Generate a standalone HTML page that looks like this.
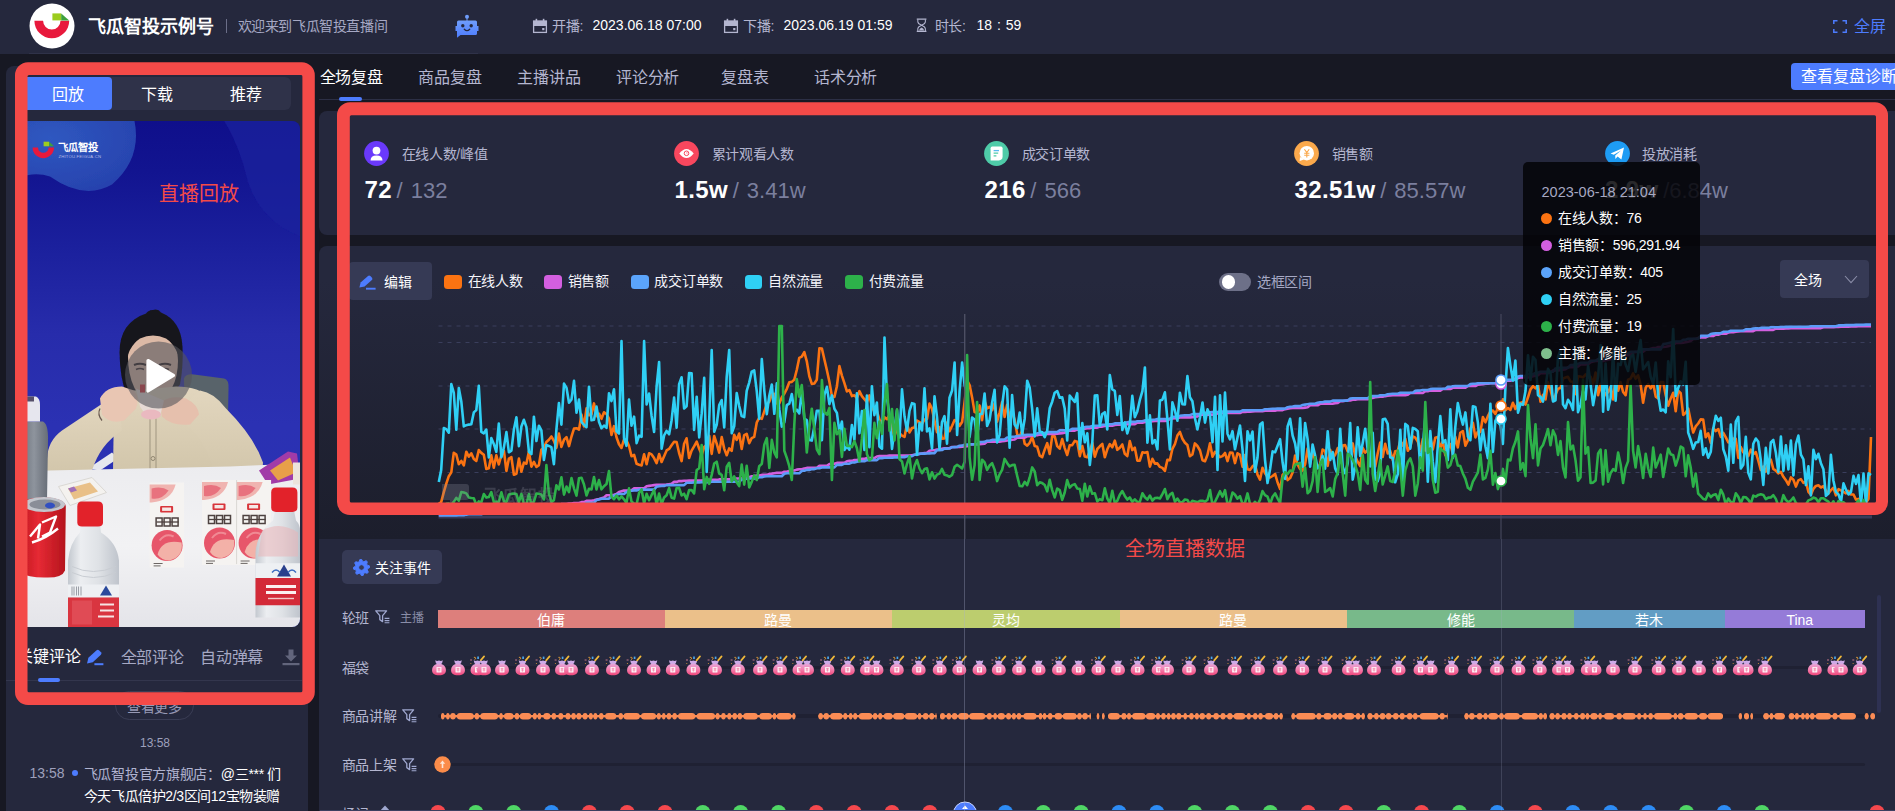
<!DOCTYPE html>
<html lang="zh-CN"><head><meta charset="utf-8"><title>飞瓜智投</title>
<style>
html,body{margin:0;padding:0;}
body{width:1895px;height:811px;overflow:hidden;background:#171823;position:relative;font-family:"Liberation Sans",sans-serif;}
body>div,.a{position:absolute;}
.t{white-space:nowrap;}
#clip{left:0;top:0;width:1895px;height:811px;overflow:hidden;}
#clip>div,#clip>svg{position:absolute;}
</style></head><body><div id="clip">
<div class="" style="left:0px;top:0px;width:1895px;height:53.5px;background:#25283d;"></div>
<div class="" style="left:29px;top:53px;width:449px;height:1px;background:#2f3249;"></div>
<svg class="a" style="left:28.5px;top:2.5px" width="46" height="46" viewBox="0 0 46 46">
<circle cx="23" cy="23" r="22.5" fill="#fff"/>
<path d="M5.4,17.8 A17.4,17.4 0 0 0 40.2,17.8 L31.5,17.8 A8.7,8.7 0 0 1 14.1,17.8 Z" fill="#e8193c"/>
<rect x="23.4" y="10.4" width="8.8" height="7" fill="#9ccc1e"/>
<path d="M32.2,10.4 L40.2,17.4 L32.2,17.4 Z" fill="#3ea03c"/>
</svg>
<div class="t" style="left:88px;top:13.7px;font-size:18px;line-height:27px;color:#fff;font-weight:700;">飞瓜智投示例号</div>
<div class="" style="left:226px;top:19px;width:1px;height:14px;background:#6b6e88;"></div>
<div class="t" style="left:237.5px;top:15.7px;font-size:14px;line-height:21px;color:#a6a8c4;font-weight:400;letter-spacing:-0.4px;">欢迎来到飞瓜智投直播间</div>
<svg class="a" style="left:454px;top:13px" width="26" height="26" viewBox="0 0 26 26">
<defs><linearGradient id="rg" x1="0" y1="0" x2="0" y2="1"><stop offset="0" stop-color="#6f9dfb"/><stop offset="1" stop-color="#4d7cfe"/></linearGradient></defs>
<circle cx="13" cy="3.8" r="2" fill="#6f9dfb"/><rect x="12.5" y="5" width="1" height="3" fill="#6f9dfb"/>
<path d="M4.5,7.6 H21.5 Q23,7.6 23,9.1 V13 H24.5 V18 H23 V20.5 Q23,22 21.5,22 H6.5 L3,24.8 V22 Q3,22 3,20.5 V18 H1.5 V13 H3 V9.1 Q3,7.6 4.5,7.6 Z" fill="url(#rg)"/>
<circle cx="8.8" cy="12.8" r="1.7" fill="#25283d"/><circle cx="17.2" cy="12.8" r="1.7" fill="#25283d"/>
<path d="M10.3,16.2 Q13,19.2 15.7,16.2" stroke="#25283d" stroke-width="1.3" fill="none" stroke-linecap="round"/>
</svg>
<svg class="a" style="left:532px;top:18px" width="16" height="16" viewBox="0 0 16 16">
<path d="M1,3 H15 V8 H1 Z" fill="#b4b6d0"/><rect x="1.6" y="3" width="12.8" height="11.4" fill="none" stroke="#b4b6d0" stroke-width="1.3"/>
<rect x="3.6" y="0.8" width="1.6" height="3" fill="#b4b6d0"/><rect x="10.8" y="0.8" width="1.6" height="3" fill="#b4b6d0"/>
<rect x="10.2" y="10" width="2.2" height="2.2" fill="#b4b6d0"/></svg>
<svg class="a" style="left:722.5px;top:18px" width="16" height="16" viewBox="0 0 16 16">
<path d="M1,3 H15 V8 H1 Z" fill="#b4b6d0"/><rect x="1.6" y="3" width="12.8" height="11.4" fill="none" stroke="#b4b6d0" stroke-width="1.3"/>
<rect x="3.6" y="0.8" width="1.6" height="3" fill="#b4b6d0"/><rect x="10.8" y="0.8" width="1.6" height="3" fill="#b4b6d0"/>
<rect x="10.2" y="10" width="2.2" height="2.2" fill="#b4b6d0"/></svg>
<div class="t" style="left:552px;top:16.1px;font-size:14px;line-height:21px;color:#b4b6d0;font-weight:400;letter-spacing:-0.3px;">开播:</div>
<div class="t" style="left:592.5px;top:15.3px;font-size:14px;line-height:21px;color:#fff;font-weight:400;">2023.06.18 07:00</div>
<div class="t" style="left:743px;top:16.1px;font-size:14px;line-height:21px;color:#b4b6d0;font-weight:400;letter-spacing:-0.3px;">下播:</div>
<div class="t" style="left:783.5px;top:15.3px;font-size:14px;line-height:21px;color:#fff;font-weight:400;">2023.06.19 01:59</div>
<svg class="a" style="left:915px;top:18.2px" width="13.2" height="14.4" viewBox="0 0 15 16">
<path d="M2,1 H13 M2,15 H13" stroke="#b4b6d0" stroke-width="1.4"/>
<path d="M3.2,1.5 V4 Q3.2,6.2 7.5,8 Q11.8,6.2 11.8,4 V1.5 M3.2,14.5 V12 Q3.2,9.8 7.5,8 Q11.8,9.8 11.8,12 V14.5" stroke="#b4b6d0" stroke-width="1.2" fill="none"/>
<path d="M4.6,14 Q5,11.5 7.5,10.6 Q10,11.5 10.4,14 Z" fill="#b4b6d0"/></svg>
<div class="t" style="left:934.5px;top:16.1px;font-size:14px;line-height:21px;color:#b4b6d0;font-weight:400;letter-spacing:-0.3px;">时长:</div>
<div class="t" style="left:976.5px;top:15.3px;font-size:14px;line-height:21px;color:#fff;font-weight:400;word-spacing:1px;">18 : 59</div>
<svg class="a" style="left:1833px;top:19.5px" width="14" height="13" viewBox="0 0 14 13">
<path d="M0.8,4 V0.8 H4.5 M9.5,0.8 H13.2 V4 M13.2,9 V12.2 H9.5 M4.5,12.2 H0.8 V9" stroke="#4d7cfe" stroke-width="1.5" fill="none"/></svg>
<div class="t" style="left:1854px;top:15.0px;font-size:16px;line-height:24px;color:#4d7cfe;font-weight:400;">全屏</div>
<div class="" style="left:6px;top:65.5px;width:301.5px;height:760px;background:#25283d;border-radius:8px 8px 0 0;"></div>
<div class="" style="left:20px;top:77px;width:270.5px;height:32.5px;background:#2f3249;border-radius:0 6px 6px 0;"></div>
<div class="" style="left:20px;top:77px;width:92px;height:32.5px;background:#4d7cfe;border-radius:0 4px 4px 0;"></div>
<div class="t" style="left:-232px;width:600px;text-align:center;top:82.5px;font-size:16px;line-height:24px;color:#fff;font-weight:400;">回放</div>
<div class="t" style="left:-143px;width:600px;text-align:center;top:82.5px;font-size:16px;line-height:24px;color:#fff;font-weight:400;">下载</div>
<div class="t" style="left:-54px;width:600px;text-align:center;top:82.5px;font-size:16px;line-height:24px;color:#fff;font-weight:400;">推荐</div>
<svg class="a" style="left:20px;top:120.5px;border-radius:0 8px 8px 0;" width="280" height="506.5" viewBox="20 120.5 280 506.5">
<defs>
<linearGradient id="vbg" x1="0" y1="0" x2="0" y2="1"><stop offset="0" stop-color="#0f0f8b"/><stop offset="0.1" stop-color="#121490"/><stop offset="0.25" stop-color="#1b209d"/><stop offset="0.42" stop-color="#272cab"/><stop offset="0.6" stop-color="#2b31b3"/><stop offset="1" stop-color="#2832b2"/></linearGradient>
<radialGradient id="vblob" cx="0.3" cy="0.25" r="0.9"><stop offset="0" stop-color="#2f58c0"/><stop offset="1" stop-color="#2640ac"/></radialGradient>
<linearGradient id="vtab" x1="0" y1="0" x2="0" y2="1"><stop offset="0" stop-color="#ececef"/><stop offset="0.5" stop-color="#f2f2f4"/><stop offset="1" stop-color="#e4e4e9"/></linearGradient>
<linearGradient id="vbot" x1="0" y1="0" x2="1" y2="0"><stop offset="0" stop-color="#c3c8cf"/><stop offset="0.25" stop-color="#eceef1"/><stop offset="0.6" stop-color="#dfe2e6"/><stop offset="1" stop-color="#bfc4cc"/></linearGradient>
<linearGradient id="vcan" x1="0" y1="0" x2="1" y2="0"><stop offset="0" stop-color="#c0161f"/><stop offset="0.4" stop-color="#e62a34"/><stop offset="1" stop-color="#b4141d"/></linearGradient>
<linearGradient id="vgb" x1="0" y1="0" x2="1" y2="0"><stop offset="0" stop-color="#6a707a"/><stop offset="0.5" stop-color="#8e949d"/><stop offset="1" stop-color="#676d77"/></linearGradient>
<linearGradient id="vsw" x1="0" y1="0" x2="0" y2="1"><stop offset="0" stop-color="#e2d6be"/><stop offset="1" stop-color="#d2c6ab"/></linearGradient>
<filter id="vb" x="-5%" y="-5%" width="110%" height="110%"><feGaussianBlur stdDeviation="0.5"/></filter>
<g id="carton"><path d="M0,0 H34.5 V85 H0 Z" fill="#f5f3f1"/><path d="M0,2 H26 Q22,18 2,20 L0,20 Z" fill="#f0b4b0"/><path d="M2,6 Q12,3 19,8 Q12,18 2,16 Z" fill="#e8727e"/>
<rect x="10.5" y="23.5" width="13" height="6.5" rx="1" fill="#d8343a"/><rect x="12.5" y="25" width="9" height="3.4" fill="#f5e8e6"/>
<path d="M6.5,35.5 h6 v8 h-6 z M14.5,35.5 h6 v8 h-6 z M22.5,35.5 h6 v8 h-6 z" fill="none" stroke="#4e4240" stroke-width="1.5"/><path d="M7,39.5 h22" stroke="#4e4240" stroke-width="1.3"/>
<circle cx="17.5" cy="63" r="15.5" fill="#e7566a"/><path d="M8,72 Q12,56 32,60 Q34,74 20,78 Q12,78 8,72 Z" fill="#f3b1a8"/><path d="M10,58 Q16,50 24,54" stroke="#f08a94" stroke-width="2" fill="none"/>
<path d="M4,81 h9 M4,83.4 h7" stroke="#6c6664" stroke-width="1"/></g>
</defs>
<rect x="20" y="120.5" width="280" height="506.5" fill="url(#vbg)"/>
<g filter="url(#vb)">
<path d="M224,120 H300 V236 Q262,222 248,182 Q240,146 224,120 Z" fill="#1a1f9c" fill-opacity="0.75"/>
<path d="M13.5,120.5 H134.5 Q142,158 112,184 Q84,200 50,176 Q32,170 13.5,180 Z" fill="url(#vblob)"/>
</g>
<path d="M32.6,147 A10.7,10.7 0 0 0 54,147 L48.6,147 A5.3,5.3 0 0 1 38,147 Z" fill="#e8193c"/>
<rect x="43.6" y="141.2" width="5.6" height="4.6" fill="#9ccc1e"/><path d="M49.2,141.2 L54,145.8 H49.2 Z" fill="#3ea03c"/>
<text x="58" y="150.4" font-size="10.4" font-weight="700" fill="#fff" font-family="Liberation Sans, sans-serif">飞瓜智投</text>
<text x="58.5" y="157.6" font-size="4.2" fill="#b8bce8" font-family="Liberation Sans, sans-serif" letter-spacing="0.2">ZHITOU.FEIGUA.CN</text>
<g filter="url(#vb)">
<!-- chair -->
<path d="M184,378 Q186,373 194,374 L224,378 Q229,379 228.5,388 L227,470 H186 Z" fill="#59636a"/>
<path d="M88,468 L112,452 L118,458 L100,470 Z" fill="#e6e8ee"/>
<!-- hair back -->
<path d="M153,309.5 Q158,307.5 161,312 Q181,320 182.5,346 Q183.5,366 180,384 L174,392 L126,392 Q120,378 119.5,352 Q119.5,322 146,313 Q149,309 153,309.5 Z" fill="#17161c"/>
<!-- face -->
<path d="M128,356 Q128,334 152,333 Q178,334 178,360 Q178,392 153,408 Q128,392 128,356 Z" fill="#dcb9a6"/>
<path d="M125,366 Q124,338 140,331 Q152,327 166,331 Q182,338 181,366 Q178,346 166,338 Q153,332 140,338 Q128,346 125,366 Z" fill="#17161c"/>
<path d="M134,364.5 q6,-2.5 12,0 M159,364.5 q6,-2.5 12,0" stroke="#2a1e1e" stroke-width="2" fill="none"/>
<path d="M136,369 q4,-2 8,0 M161,369 q4,-2 8,0" stroke="#3a2a2a" stroke-width="1.6" fill="none"/>
<!-- torso -->
<path d="M113,470 L114,408 Q118,394 134,390 L176,386 Q200,386 210,398 L214,470 Z" fill="url(#vsw)"/>
<!-- left arm -->
<path d="M47,458 Q48,440 62,430 L104,402 Q116,400 120,412 L122,430 Q100,444 92,470 L47,472 Z" fill="url(#vsw)"/>
<!-- right arm -->
<path d="M200,390 Q214,392 226,408 Q254,436 263,462 L262,474 L214,472 Q206,440 186,424 L180,408 Z" fill="url(#vsw)"/>
<path d="M150,418 V470 M156,418 V470" stroke="#9a907c" stroke-width="0.9"/>
<circle cx="153" cy="458" r="2" fill="none" stroke="#8a806c" stroke-width="0.9"/>
<!-- hands -->
<path d="M100,398 Q106,386 122,386 L134,390 Q140,398 136,408 L124,420 Q110,424 102,414 Z" fill="#e9c6b3"/>
<path d="M160,402 Q172,394 186,398 Q198,404 199,414 L190,424 Q172,426 162,416 Z" fill="#e6c0ad"/>
<path d="M100,408 q-3,6 2,12" stroke="#6a5a50" stroke-width="1.2" fill="none"/>
<!-- cup -->
<path d="M136,388 L140,406 Q146,418 160,416 L164,400 Z" fill="#e9dcdc" fill-opacity="0.8"/><ellipse cx="151" cy="414" rx="10" ry="5" fill="#eab9c0"/><rect x="140" y="384" width="5" height="8" fill="#d8303a"/>
<!-- table -->
<path d="M20,472 L49,470 L230,466 L300,463 V628 H20 Z" fill="url(#vtab)"/>
<!-- snack -->
<path d="M259,470 L288,451 L297,453 L300,478 L268,484 Z" fill="#a13aa8"/><path d="M270,470 L290,457 L296,472 L278,480 Z" fill="#e8a048"/>
<path d="M293,462 h7 v22 h-7z" fill="#ece4dc"/>
<!-- gray bottle -->
<path d="M20,421 H43 Q48.5,424 48,440 L47,500 H20 Z" fill="url(#vgb)"/>
<path d="M20,396 H36 Q40,398 40,404 V421 H20 Z" fill="#e6e6ee"/><path d="M20,396 h14 v5 h-14z" fill="#55506a"/>
<!-- food container -->
<path d="M58.5,486 L92,477 L106.5,492 L70,505 Z" fill="#f4f2ef" stroke="#dad8d4" stroke-width="1"/><path d="M68,488 L90,482 L98,491 L74,499 Z" fill="#e9c088"/><path d="M68,488 l6,-2 l3,4 l-6,2z" fill="#a070b8"/>
<!-- cartons -->
<use href="#carton" x="149.6" y="482"/><use href="#carton" x="202" y="479.5"/><use href="#carton" x="236.6" y="479.5"/>
<path d="M236.6,479.5 v84" stroke="#d2cfcc" stroke-width="0.8"/>
<!-- coke can -->
<path d="M20,504 Q26,496 46,497 Q65,498 65.8,506 L65,570 Q62,578 44,577 Q28,577 20,572 Z" fill="url(#vcan)"/>
<ellipse cx="44" cy="504" rx="21" ry="7.5" fill="#c3c6cd"/><ellipse cx="45" cy="504" rx="15.5" ry="5" fill="#8a8e98"/><ellipse cx="50" cy="505" rx="5" ry="3" fill="#3050c0"/>
<path d="M30,536 l10,-12 l-2,14 M42,522 l14,-6 l-6,16 l-8,4 M32,542 q14,-4 26,-14" stroke="#fff" stroke-width="2.4" fill="none" stroke-linejoin="round"/>
<!-- water bottle 1 -->
<path d="M81,524 H100 L101,532 Q117,542 119,560 V628 H68 V560 Q70,542 80,532 Z" fill="url(#vbot)"/>
<path d="M72,566 Q93,576 116,566 M72,572 Q93,582 116,572" stroke="#c9cdd3" stroke-width="1" fill="none"/>
<path d="M77.3,506 Q77.3,501 82,501 H98 Q103,501 103,506 V522 Q103,526 98,526 H82 Q77.3,526 77.3,522 Z" fill="#e2212c"/>
<path d="M68,584 H119 V597 H68 Z" fill="#eef0f3"/><path d="M72,586 v9 m2,-9 v9 m2.5,-9 v9 m2,-9 v9 m2.5,-9 v9" stroke="#9a9ea6" stroke-width="1"/><path d="M106,585 l6,10 h-12 z" fill="#2a4a9c"/>
<path d="M68,597 H119 V628 H68 Z" fill="#d9343f"/><path d="M100,604 h14 M100,610 h14 M98,616 h16" stroke="#f6e4e4" stroke-width="2.2"/>
<path d="M72,600 h20 v24 h-20z" fill="#e25560" fill-opacity="0.7"/>
<!-- water bottle 2 -->
<path d="M275,510 H294 L296,520 Q300,524 300,530 V617 H255.5 V552 Q257,532 273,520 Z" fill="url(#vbot)"/>
<path d="M262,530 Q280,520 298,532 V556 H258 Z" fill="#eab4b8" fill-opacity="0.55"/>
<path d="M271.2,492 Q271.2,487 276,487 H292.5 Q297.4,487 297.4,492 V507 Q297.4,511.4 292.5,511.4 H276 Q271.2,511.4 271.2,507 Z" fill="#e2212c"/>
<path d="M255.5,562.7 H300 V577.4 H255.5 Z" fill="#eef0f3"/><path d="M284,564 l7,12 h-14 z" fill="#2a3f8c"/><path d="M272,572 q4,-5 8,0 M288,572 q4,-5 8,0" stroke="#3a6ac0" stroke-width="1.4" fill="none"/>
<path d="M255.5,577.4 H300 V604.7 H255.5 Z" fill="#d32c38"/><path d="M266,586 h30 M266,592 h30" stroke="#fbf0f0" stroke-width="3"/><path d="M268,598 h26" stroke="#f1c8c8" stroke-width="1.4"/>
</g>
<!-- play -->
<circle cx="158.5" cy="374.5" r="33.5" fill="#55555c" fill-opacity="0.6"/>
<path d="M148,360 L173.5,375 L148,390.5 Z" fill="#fff" stroke="#fff" stroke-width="3.2" stroke-linejoin="round"/>
</svg>
<div class="t" style="left:16.5px;top:645.0px;font-size:16px;line-height:24px;color:#fff;font-weight:500;">关键评论</div>
<svg class="a" style="left:86px;top:649px" width="18" height="17" viewBox="0 0 18 17">
<path d="M1,14.4 L2.4,8.8 L10.6,1.2 Q11.9,0.2 13.2,1.4 L15,3.2 Q16.1,4.5 14.9,5.7 L6.8,13.2 Z" fill="#4d7cfe"/>
<path d="M8.4,15.2 H17.4" stroke="#4d7cfe" stroke-width="2"/></svg>
<div class="t" style="left:120.5px;top:645.5px;font-size:16px;line-height:24px;color:#a6a8c4;font-weight:400;letter-spacing:-0.2px;">全部评论</div>
<div class="t" style="left:200px;top:645.5px;font-size:16px;line-height:24px;color:#a6a8c4;font-weight:400;letter-spacing:-0.2px;">自动弹幕</div>
<svg class="a" style="left:282px;top:648.5px" width="18" height="17" viewBox="0 0 18 17">
<path d="M6.5,0.5 H11.5 V6.5 H15 L9,12.5 L3,6.5 H6.5 Z" fill="#62657c"/><rect x="0.5" y="14" width="17" height="2.2" fill="#62657c"/></svg>
<div class="" style="left:6px;top:680px;width:296px;height:1px;background:#33364d;"></div>
<div class="" style="left:38px;top:678px;width:22px;height:4px;background:#4d7cfe;border-radius:2px;"></div>
<div class="" style="left:115px;top:691px;width:78.5px;height:29px;border:1px solid #3a3d55;border-radius:15px;box-sizing:border-box;"></div>
<div class="t" style="left:-145.5px;width:600px;text-align:center;top:697.0px;font-size:14px;line-height:21px;color:#9799b5;font-weight:400;letter-spacing:-0.3px;">查看更多</div>
<div class="t" style="left:-145px;width:600px;text-align:center;top:734.0px;font-size:12px;line-height:18px;color:#9ea0bc;font-weight:400;">13:58</div>
<div class="t" style="left:29.5px;top:763.0px;font-size:14px;line-height:21px;color:#9ea0bc;font-weight:400;">13:58</div>
<div class="" style="left:72px;top:770px;width:6px;height:6px;background:#4d7cfe;border-radius:3px;"></div>
<div class="t" style="left:83.75px;top:763.0px;font-size:14px;line-height:22px;color:#fff;font-weight:400;letter-spacing:-0.3px;white-space:nowrap;"><span style="color:#b0b3d0">飞瓜智投官方旗舰店：</span>@三*** 们</div>
<div class="t" style="left:83.75px;top:784.8px;font-size:14px;line-height:22px;color:#fff;font-weight:400;letter-spacing:-0.4px;white-space:nowrap;">今天飞瓜倍护2/3区间12宝物装赠</div>
<div class="t" style="left:83.75px;top:806.8px;font-size:14px;line-height:22px;color:#fff;font-weight:400;">品优品, vip同期大</div>
<div class="t" style="left:319.5px;top:66.2px;font-size:16px;line-height:24px;color:#fff;font-weight:400;letter-spacing:-0.1px;">全场复盘</div>
<div class="t" style="left:418px;top:66.2px;font-size:16px;line-height:24px;color:#b4b6d0;font-weight:400;letter-spacing:-0.1px;">商品复盘</div>
<div class="t" style="left:517px;top:66.2px;font-size:16px;line-height:24px;color:#b4b6d0;font-weight:400;letter-spacing:-0.1px;">主播讲品</div>
<div class="t" style="left:615.75px;top:66.2px;font-size:16px;line-height:24px;color:#b4b6d0;font-weight:400;letter-spacing:-0.1px;">评论分析</div>
<div class="t" style="left:721.25px;top:66.2px;font-size:16px;line-height:24px;color:#b4b6d0;font-weight:400;letter-spacing:-0.1px;">复盘表</div>
<div class="t" style="left:813.75px;top:66.2px;font-size:16px;line-height:24px;color:#b4b6d0;font-weight:400;letter-spacing:-0.1px;">话术分析</div>
<div class="" style="left:319px;top:99px;width:1576px;height:1px;background:#2c2f45;"></div>
<div class="" style="left:339px;top:97px;width:23px;height:3.5px;background:#4d7cfe;border-radius:2px;"></div>
<div class="" style="left:1790.5px;top:63px;width:120px;height:26.5px;background:#4d7cfe;border-radius:4px;"></div>
<div class="t" style="left:1800.5px;top:64.5px;font-size:16px;line-height:24px;color:#fff;font-weight:400;white-space:nowrap;">查看复盘诊断</div>
<div class="" style="left:319px;top:111px;width:1600px;height:123.5px;background:#25283d;border-radius:8px 0 0 8px;"></div>
<svg class="a" style="left:364px;top:140.5px" width="25" height="25" viewBox="0 0 25 25"><circle cx="12.5" cy="12.5" r="12.4" fill="#6a39fb"/><circle cx="12.5" cy="9.6" r="3.9" fill="#fff"/><path d="M6.5,19.6 Q6.5,14.4 12.5,14.4 Q18.5,14.4 18.5,19.6 Z" fill="#fff"/></svg>
<div class="t" style="left:401.5px;top:143.5px;font-size:14px;line-height:21px;color:#b4b6d0;font-weight:400;letter-spacing:-0.3px;">在线人数/峰值</div>
<div class="t" style="left:364.5px;top:171.8px;line-height:36px;white-space:nowrap;"><span style="font-size:24px;font-weight:700;color:#fff;letter-spacing:0.4px">72</span><span style="font-size:22px;color:#7b7f9e;margin-left:4.5px;word-spacing:2px;letter-spacing:0px">/ 132</span></div>
<svg class="a" style="left:674px;top:140.5px" width="25" height="25" viewBox="0 0 25 25"><circle cx="12.5" cy="12.5" r="12.4" fill="#f8475e"/><path d="M5.3,12.5 Q12.5,3.5 19.7,12.5 Q12.5,21.5 5.3,12.5 Z" fill="#fff"/><circle cx="12.5" cy="12.3" r="2.3" fill="none" stroke="#f8475e" stroke-width="1"/><circle cx="12.9" cy="11.9" r="0.8" fill="#f8a0b0"/></svg>
<div class="t" style="left:711.5px;top:143.5px;font-size:14px;line-height:21px;color:#b4b6d0;font-weight:400;letter-spacing:-0.3px;">累计观看人数</div>
<div class="t" style="left:674.5px;top:171.8px;line-height:36px;white-space:nowrap;"><span style="font-size:24px;font-weight:700;color:#fff;letter-spacing:0.4px">1.5w</span><span style="font-size:22px;color:#7b7f9e;margin-left:4.5px;word-spacing:2px;letter-spacing:0px">/ 3.41w</span></div>
<svg class="a" style="left:984px;top:140.5px" width="25" height="25" viewBox="0 0 25 25"><circle cx="12.5" cy="12.5" r="12.4" fill="#4ecba8"/><path d="M8.2,5.6 H17 Q18.6,5.6 18.6,7.2 V15.5 Q18.6,19.2 14.8,19.4 H6.6 V7.2 Q6.6,5.6 8.2,5.6 Z" fill="#fff"/><path d="M9.6,9.6 H15 " stroke="#5ab8f0" stroke-width="1.3"/><path d="M9.6,12.2 H14.2 M9.6,14.9 H12.4" stroke="#4ecba8" stroke-width="1.3"/></svg>
<div class="t" style="left:1021.5px;top:143.5px;font-size:14px;line-height:21px;color:#b4b6d0;font-weight:400;letter-spacing:-0.3px;">成交订单数</div>
<div class="t" style="left:984.5px;top:171.8px;line-height:36px;white-space:nowrap;"><span style="font-size:24px;font-weight:700;color:#fff;letter-spacing:0.4px">216</span><span style="font-size:22px;color:#7b7f9e;margin-left:4.5px;word-spacing:2px;letter-spacing:0px">/ 566</span></div>
<svg class="a" style="left:1294px;top:140.5px" width="25" height="25" viewBox="0 0 25 25"><circle cx="12.5" cy="12.5" r="12.4" fill="#fba94c"/><circle cx="12.8" cy="12.2" r="7.2" fill="#fff"/><path d="M6,16 L5.6,20 L10,18.6 Z" fill="#fff"/><path d="M10.4,8.2 L12.8,11.6 L15.2,8.2 M12.8,11.6 V16.4 M10.2,12.2 H15.4 M10.2,14.2 H15.4" stroke="#fba94c" stroke-width="1.1" fill="none"/></svg>
<div class="t" style="left:1331.5px;top:143.5px;font-size:14px;line-height:21px;color:#b4b6d0;font-weight:400;letter-spacing:-0.3px;">销售额</div>
<div class="t" style="left:1294.5px;top:171.8px;line-height:36px;white-space:nowrap;"><span style="font-size:24px;font-weight:700;color:#fff;letter-spacing:0.4px">32.51w</span><span style="font-size:22px;color:#7b7f9e;margin-left:4.5px;word-spacing:2px;letter-spacing:0px">/ 85.57w</span></div>
<svg class="a" style="left:1604.5px;top:140.5px" width="25" height="25" viewBox="0 0 25 25"><circle cx="12.5" cy="12.5" r="12.4" fill="#1e9cf4"/><path d="M5.6,12.6 L19,6.6 L16.4,18.6 L12.6,15.6 L10.4,18 L10.2,14.4 L16,9.6 L8.8,13.8 Z" fill="#fff"/></svg>
<div class="t" style="left:1642.0px;top:143.5px;font-size:14px;line-height:21px;color:#b4b6d0;font-weight:400;letter-spacing:-0.3px;">投放消耗</div>
<div class="t" style="left:1605.0px;top:171.8px;line-height:36px;white-space:nowrap;"><span style="font-size:24px;font-weight:700;color:#fff;letter-spacing:0.4px">2.9w</span><span style="font-size:22px;color:#7b7f9e;margin-left:4.5px;word-spacing:2px;letter-spacing:0px">/6.84w</span></div>
<div class="" style="left:319px;top:246px;width:1600px;height:293px;background:linear-gradient(180deg,#25283d 0%,#25283d 12%,#1c1e2c 100%);border-radius:8px 0 0 0;"></div>
<div class="" style="left:349px;top:262px;width:83px;height:37.5px;background:#363a55;border-radius:4px;"></div>
<svg class="a" style="left:359px;top:274.5px" width="17" height="15" viewBox="0 0 17 15">
<path d="M0.4,12.6 L1.6,7.6 L9,0.9 Q10.2,0 11.4,1.1 L13,2.7 Q14,3.9 12.9,5 L5.6,11.6 Z" fill="#4d7cfe"/>
<path d="M7,13.7 H16.6" stroke="#4d7cfe" stroke-width="1.9"/></svg>
<div class="t" style="left:383.75px;top:271.5px;font-size:14px;line-height:21px;color:#fff;font-weight:500;">编辑</div>
<div class="" style="left:444.25px;top:275px;width:17.8px;height:14.2px;background:#fb7312;border-radius:3.5px;"></div>
<div class="t" style="left:467.5px;top:270.5px;font-size:14px;line-height:21px;color:#f4f4fa;font-weight:400;letter-spacing:-0.25px;">在线人数</div>
<div class="" style="left:544.25px;top:275px;width:17.8px;height:14.2px;background:#d35fe0;border-radius:3.5px;"></div>
<div class="t" style="left:567.5px;top:270.5px;font-size:14px;line-height:21px;color:#f4f4fa;font-weight:400;letter-spacing:-0.25px;">销售额</div>
<div class="" style="left:630.75px;top:275px;width:17.8px;height:14.2px;background:#5ba4fb;border-radius:3.5px;"></div>
<div class="t" style="left:654.25px;top:270.5px;font-size:14px;line-height:21px;color:#f4f4fa;font-weight:400;letter-spacing:-0.25px;">成交订单数</div>
<div class="" style="left:744.5px;top:275px;width:17.8px;height:14.2px;background:#2fd0f5;border-radius:3.5px;"></div>
<div class="t" style="left:768px;top:270.5px;font-size:14px;line-height:21px;color:#f4f4fa;font-weight:400;letter-spacing:-0.25px;">自然流量</div>
<div class="" style="left:845.4px;top:275px;width:17.8px;height:14.2px;background:#2db14a;border-radius:3.5px;"></div>
<div class="t" style="left:868.7px;top:270.5px;font-size:14px;line-height:21px;color:#f4f4fa;font-weight:400;letter-spacing:-0.25px;">付费流量</div>
<div class="" style="left:1219.3px;top:273px;width:32.2px;height:18px;background:#6d7088;border-radius:9px;"></div>
<div class="" style="left:1222px;top:275.3px;width:13.4px;height:13.4px;background:#fff;border-radius:7px;"></div>
<div class="t" style="left:1257px;top:271.5px;font-size:14px;line-height:21px;color:#a6a8c4;font-weight:400;letter-spacing:-0.3px;">选框区间</div>
<div class="" style="left:1779.75px;top:260px;width:89.5px;height:37.5px;background:#363a55;border-radius:4px;"></div>
<div class="t" style="left:1793.5px;top:269.5px;font-size:14px;line-height:21px;color:#fff;font-weight:400;">全场</div>
<svg class="a" style="left:1844px;top:274.5px" width="14" height="9" viewBox="0 0 14 9"><path d="M1,1 L7,7.6 L13,1" stroke="#8a8da8" stroke-width="1.1" fill="none"/></svg>
<svg class="a" style="left:0;top:0" width="1895" height="811" viewBox="0 0 1895 811">
<g stroke="#3a3e5c" stroke-width="1" stroke-dasharray="4 5" fill="none"><path d="M438.5,326 H1871" /><path d="M438.5,342.5 H1871" /><path d="M438.5,386 H1871" /><path d="M438.5,429 H1871" /><path d="M438.5,472.5 H1871" /></g>
<path d="M438.5,517 H1872" stroke="#383c5a" stroke-width="3"/>

<g fill="none" stroke-width="2.6" stroke-linejoin="round">
<path d="M438.8,503.5 L441.2,502.1 L443.8,492.1 L446.3,483.7 L448.8,476.2 L451.3,472.4 L453.8,452.7 L456.3,454.5 L458.8,464.3 L461.3,460.9 L463.8,465.4 L466.3,451.7 L468.8,456.7 L471.3,453.4 L473.8,459.0 L476.3,460.9 L478.8,450.1 L481.3,452.9 L483.8,454.8 L486.3,468.9 L488.8,468.2 L491.3,455.4 L493.8,467.7 L496.3,455.3 L498.8,464.5 L501.4,455.0 L503.9,450.9 L506.4,470.9 L508.9,458.6 L511.4,457.2 L513.9,474.7 L516.4,473.7 L518.9,458.6 L521.4,471.7 L523.9,462.6 L526.4,463.7 L528.9,451.5 L531.4,466.6 L533.9,461.9 L536.4,467.0 L538.9,465.1 L541.4,449.5 L543.9,447.8 L546.4,442.0 L548.9,439.7 L551.4,436.5 L553.9,440.9 L556.4,447.9 L558.9,433.6 L561.4,446.9 L564.0,439.7 L566.5,437.1 L569.0,446.1 L571.5,436.5 L574.0,428.6 L576.5,428.2 L579.0,429.7 L581.5,414.5 L584.0,426.4 L586.5,408.3 L589.0,415.2 L591.5,414.5 L594.0,403.4 L596.5,416.2 L599.0,413.6 L601.5,418.8 L604.0,412.3 L606.5,414.0 L609.0,418.6 L611.5,435.0 L614.0,426.2 L616.5,437.2 L619.0,444.3 L621.5,447.9 L624.0,439.4 L626.5,440.4 L629.0,446.0 L631.5,456.3 L634.1,454.8 L636.6,463.8 L639.1,464.8 L641.6,465.4 L644.1,454.3 L646.6,464.2 L649.1,453.2 L651.6,454.4 L654.1,458.1 L656.6,463.2 L659.1,454.0 L661.6,462.0 L664.1,456.2 L666.6,450.4 L669.1,448.9 L671.6,445.2 L674.1,441.8 L676.6,442.0 L679.1,453.0 L681.6,461.1 L684.1,443.7 L686.6,438.3 L689.1,458.0 L691.6,450.6 L694.1,446.4 L696.7,441.7 L699.2,448.7 L701.7,454.8 L704.2,447.0 L706.7,444.8 L709.2,435.8 L711.7,453.9 L714.2,436.0 L716.7,443.7 L719.2,452.6 L721.7,437.1 L724.2,448.6 L726.7,455.2 L729.2,448.4 L731.7,450.9 L734.2,434.8 L736.7,439.9 L739.2,433.5 L741.7,449.0 L744.2,435.1 L746.7,433.8 L749.2,443.2 L751.7,438.1 L754.2,436.9 L756.8,422.3 L759.2,417.9 L761.8,418.9 L764.3,411.3 L766.8,403.9 L769.3,401.8 L771.8,394.0 L774.3,393.9 L776.8,403.4 L779.3,403.5 L781.8,397.3 L784.3,393.7 L786.8,388.8 L789.3,382.3 L791.8,381.9 L794.3,379.6 L796.8,369.7 L799.3,357.8 L801.8,356.6 L804.3,352.1 L806.8,361.3 L809.3,376.1 L811.8,383.9 L814.3,383.5 L816.8,379.7 L819.4,348.4 L821.9,348.5 L824.4,359.5 L826.9,370.2 L829.4,381.7 L831.9,396.1 L834.4,396.9 L836.9,386.2 L839.4,366.1 L841.9,375.6 L844.4,383.2 L846.9,391.4 L849.4,390.1 L851.9,396.1 L854.4,395.2 L856.9,398.3 L859.4,391.2 L861.9,396.1 L864.4,399.2 L866.9,402.1 L869.4,395.4 L871.9,406.8 L874.4,411.6 L876.9,411.3 L879.4,419.5 L882.0,422.9 L884.5,417.3 L887.0,419.2 L889.5,414.9 L892.0,430.0 L894.5,435.7 L897.0,428.7 L899.5,433.2 L902.0,435.7 L904.5,436.9 L907.0,423.9 L909.5,432.4 L912.0,428.0 L914.5,427.4 L917.0,420.5 L919.5,422.0 L922.0,423.8 L924.5,419.5 L927.0,419.0 L929.5,403.5 L932.0,408.9 L934.5,420.7 L937.0,432.1 L939.5,427.2 L942.0,438.6 L944.5,438.4 L947.0,422.6 L949.5,431.2 L952.1,425.8 L954.6,420.1 L957.1,421.1 L959.6,425.8 L962.1,422.1 L964.6,402.0 L967.1,380.4 L969.6,385.1 L972.1,397.4 L974.6,412.1 L977.1,412.9 L979.6,405.4 L982.1,420.2 L984.6,401.3 L987.1,408.5 L989.6,406.8 L992.1,410.2 L994.6,403.3 L997.1,421.7 L999.6,412.5 L1002.1,402.1 L1004.6,417.0 L1007.1,404.8 L1009.6,416.4 L1012.1,412.4 L1014.6,419.5 L1017.2,434.4 L1019.7,436.6 L1022.2,430.2 L1024.7,443.7 L1027.2,445.6 L1029.7,442.8 L1032.2,437.0 L1034.7,446.1 L1037.2,446.8 L1039.7,455.6 L1042.2,457.2 L1044.7,449.7 L1047.2,443.1 L1049.7,453.9 L1052.2,436.4 L1054.7,436.2 L1057.2,446.1 L1059.7,448.7 L1062.2,439.1 L1064.7,448.1 L1067.2,455.0 L1069.7,445.3 L1072.2,445.1 L1074.8,440.9 L1077.2,441.7 L1079.8,456.1 L1082.3,446.0 L1084.8,456.6 L1087.3,457.3 L1089.8,450.9 L1092.3,443.1 L1094.8,456.8 L1097.3,449.0 L1099.8,446.3 L1102.3,444.0 L1104.8,457.3 L1107.3,449.3 L1109.8,444.1 L1112.3,447.3 L1114.8,440.7 L1117.3,449.8 L1119.8,447.7 L1122.3,444.5 L1124.8,453.8 L1127.3,456.1 L1129.8,441.0 L1132.3,450.1 L1134.8,447.7 L1137.3,460.6 L1139.8,460.7 L1142.4,452.3 L1144.9,452.7 L1147.4,452.1 L1149.9,466.6 L1152.4,458.8 L1154.9,463.6 L1157.4,463.4 L1159.9,466.9 L1162.4,467.9 L1164.9,470.9 L1167.4,459.9 L1169.9,460.1 L1172.4,448.8 L1174.9,444.1 L1177.4,435.5 L1179.9,431.9 L1182.4,438.8 L1184.9,442.7 L1187.4,445.0 L1189.9,456.3 L1192.4,454.5 L1194.9,443.4 L1197.4,446.0 L1200.0,450.5 L1202.5,460.3 L1205.0,461.2 L1207.5,454.7 L1210.0,443.3 L1212.5,456.7 L1215.0,451.8 L1217.5,454.1 L1220.0,457.1 L1222.5,456.1 L1225.0,453.0 L1227.5,461.1 L1230.0,452.6 L1232.5,452.8 L1235.0,463.1 L1237.5,453.2 L1240.0,454.9 L1242.5,466.7 L1245.0,455.1 L1247.5,469.3 L1250.0,470.0 L1252.5,466.4 L1255.0,464.5 L1257.5,474.6 L1260.0,479.7 L1262.5,467.7 L1265.0,473.3 L1267.5,476.7 L1270.1,477.5 L1272.6,476.0 L1275.1,473.9 L1277.6,482.5 L1280.1,489.0 L1282.6,475.0 L1285.1,472.4 L1287.6,480.1 L1290.1,478.1 L1292.6,472.5 L1295.1,455.5 L1297.6,464.6 L1300.1,469.0 L1302.6,470.6 L1305.1,464.2 L1307.6,448.6 L1310.1,463.9 L1312.6,452.1 L1315.1,459.9 L1317.6,468.1 L1320.1,463.8 L1322.6,449.6 L1325.1,451.1 L1327.7,465.9 L1330.2,449.9 L1332.7,458.3 L1335.2,454.8 L1337.7,448.2 L1340.2,458.2 L1342.7,445.5 L1345.2,445.1 L1347.7,451.5 L1350.2,444.8 L1352.7,443.3 L1355.2,455.9 L1357.7,461.9 L1360.2,466.2 L1362.7,447.9 L1365.2,452.6 L1367.7,450.2 L1370.2,457.1 L1372.7,455.2 L1375.2,466.6 L1377.7,453.5 L1380.2,442.5 L1382.7,456.9 L1385.2,443.7 L1387.7,453.5 L1390.2,450.8 L1392.8,460.2 L1395.2,451.3 L1397.8,450.8 L1400.3,440.5 L1402.8,445.6 L1405.3,438.8 L1407.8,450.8 L1410.3,446.7 L1412.8,436.4 L1415.3,437.7 L1417.8,441.5 L1420.3,451.3 L1422.8,439.1 L1425.3,450.5 L1427.8,450.8 L1430.3,437.4 L1432.8,449.4 L1435.3,437.7 L1437.8,437.0 L1440.3,447.9 L1442.8,441.5 L1445.3,455.2 L1447.8,448.4 L1450.3,444.0 L1452.8,453.9 L1455.3,436.7 L1457.8,447.4 L1460.3,432.8 L1462.9,431.0 L1465.4,445.7 L1467.9,440.4 L1470.4,428.5 L1472.9,422.8 L1475.4,437.4 L1477.9,431.6 L1480.4,431.9 L1482.9,417.0 L1485.4,422.3 L1487.9,416.2 L1490.4,411.3 L1492.9,410.6 L1495.4,413.9 L1497.9,407.8 L1500.4,405.8 L1502.9,399.3 L1505.4,410.2 L1507.9,408.0 L1510.4,409.9 L1512.9,402.8 L1515.4,409.0 L1518.0,403.0 L1520.5,402.9 L1523.0,401.9 L1525.5,404.5 L1528.0,397.3 L1530.5,389.4 L1533.0,386.1 L1535.5,388.4 L1538.0,384.6 L1540.5,401.8 L1543.0,394.9 L1545.5,399.5 L1548.0,382.3 L1550.5,389.8 L1553.0,400.1 L1555.5,394.8 L1558.0,388.8 L1560.5,388.1 L1563.0,378.4 L1565.5,377.6 L1568.0,376.8 L1570.5,381.5 L1573.0,381.8 L1575.5,394.1 L1578.0,376.3 L1580.5,376.5 L1583.0,377.4 L1585.5,374.5 L1588.1,377.6 L1590.6,376.8 L1593.1,383.6 L1595.6,372.5 L1598.1,395.3 L1600.6,383.8 L1603.1,397.9 L1605.6,393.3 L1608.1,392.4 L1610.6,386.9 L1613.1,399.5 L1615.6,378.3 L1618.1,390.8 L1620.6,382.2 L1623.1,392.0 L1625.6,395.2 L1628.1,379.7 L1630.6,378.6 L1633.1,373.4 L1635.6,378.8 L1638.1,375.3 L1640.6,384.3 L1643.1,402.7 L1645.7,387.7 L1648.2,384.1 L1650.7,388.3 L1653.2,383.6 L1655.7,396.6 L1658.2,398.3 L1660.7,382.0 L1663.2,382.0 L1665.7,395.3 L1668.2,405.7 L1670.7,398.5 L1673.2,392.8 L1675.7,411.3 L1678.2,390.6 L1680.7,393.2 L1683.2,414.9 L1685.7,412.8 L1688.2,408.5 L1690.7,421.0 L1693.2,432.6 L1695.7,426.4 L1698.2,423.5 L1700.7,419.4 L1703.2,419.6 L1705.7,437.3 L1708.2,433.3 L1710.8,442.8 L1713.2,428.2 L1715.8,431.1 L1718.3,429.1 L1720.8,436.9 L1723.3,432.8 L1725.8,437.4 L1728.3,442.4 L1730.8,442.3 L1733.3,438.5 L1735.8,438.9 L1738.3,457.9 L1740.8,446.9 L1743.3,452.6 L1745.8,452.6 L1748.3,456.1 L1750.8,449.6 L1753.3,454.0 L1755.8,452.1 L1758.3,460.7 L1760.8,469.8 L1763.3,466.6 L1765.8,471.7 L1768.3,462.8 L1770.8,459.5 L1773.3,468.9 L1775.8,470.6 L1778.3,473.4 L1780.9,471.9 L1783.4,476.8 L1785.9,480.2 L1788.4,484.6 L1790.9,477.4 L1793.4,479.7 L1795.9,486.6 L1798.4,480.3 L1800.9,479.1 L1803.4,482.9 L1805.9,481.7 L1808.4,491.8 L1810.9,494.7 L1813.4,488.8 L1815.9,485.9 L1818.4,485.2 L1820.9,487.5 L1823.4,486.2 L1825.9,490.6 L1828.4,493.4 L1830.9,490.1 L1833.4,487.8 L1835.9,495.3 L1838.5,489.2 L1841.0,490.4 L1843.5,491.9 L1846.0,493.4 L1848.5,490.9 L1851.0,494.4 L1853.5,494.5 L1856.0,499.6 L1858.5,498.9 L1861.0,502.5 L1863.5,501.3 L1866.0,502.5 L1868.5,498.9 L1871.0,437.0" stroke="#fb7312"/>
<path d="M438.8,515.0 L441.2,515.0 L443.8,514.6 L446.3,514.6 L448.8,514.6 L451.3,513.9 L453.8,513.9 L456.3,513.9 L458.8,513.2 L461.3,513.2 L463.8,513.2 L466.3,512.6 L468.8,512.6 L471.3,512.6 L473.8,511.9 L476.3,511.7 L478.8,511.7 L481.3,511.2 L483.8,511.0 L486.3,511.0 L488.8,511.0 L491.3,511.0 L493.8,511.0 L496.3,511.0 L498.8,509.7 L501.4,509.7 L503.9,509.7 L506.4,509.7 L508.9,509.7 L511.4,509.7 L513.9,508.4 L516.4,508.4 L518.9,508.4 L521.4,508.4 L523.9,507.5 L526.4,507.5 L528.9,507.0 L531.4,506.8 L533.9,506.6 L536.4,506.4 L538.9,506.1 L541.4,506.1 L543.9,506.1 L546.4,506.1 L548.9,506.1 L551.4,506.1 L553.9,506.1 L556.4,506.1 L558.9,505.9 L561.4,504.1 L564.0,504.1 L566.5,504.1 L569.0,503.5 L571.5,503.5 L574.0,503.0 L576.5,503.0 L579.0,503.0 L581.5,502.1 L584.0,502.1 L586.5,500.8 L589.0,500.8 L591.5,500.8 L594.0,500.2 L596.5,499.5 L599.0,498.9 L601.5,498.2 L604.0,497.5 L606.5,495.3 L609.0,495.3 L611.5,495.3 L614.0,494.8 L616.5,494.1 L619.0,492.0 L621.5,491.3 L624.0,490.6 L626.5,490.6 L629.0,490.6 L631.5,490.3 L634.1,488.4 L636.6,488.4 L639.1,488.4 L641.6,488.4 L644.1,488.2 L646.6,486.3 L649.1,485.9 L651.6,485.5 L654.1,485.1 L656.6,484.7 L659.1,484.7 L661.6,484.7 L664.1,484.7 L666.6,484.6 L669.1,484.2 L671.6,483.8 L674.1,481.9 L676.6,481.9 L679.1,481.1 L681.6,481.1 L684.1,480.8 L686.6,480.7 L689.1,480.6 L691.6,480.6 L694.1,480.6 L696.7,480.6 L699.2,480.6 L701.7,480.6 L704.2,480.0 L706.7,479.9 L709.2,479.9 L711.7,479.9 L714.2,479.9 L716.7,479.9 L719.2,479.4 L721.7,479.4 L724.2,479.4 L726.7,479.4 L729.2,479.4 L731.7,479.4 L734.2,478.5 L736.7,478.5 L739.2,478.5 L741.7,478.5 L744.2,477.2 L746.7,477.2 L749.2,477.2 L751.7,476.2 L754.2,476.2 L756.8,475.5 L759.2,475.5 L761.8,474.9 L764.3,474.9 L766.8,474.9 L769.3,473.9 L771.8,473.6 L774.3,473.2 L776.8,472.9 L779.3,472.9 L781.8,472.9 L784.3,471.8 L786.8,471.8 L789.3,470.9 L791.8,470.5 L794.3,470.5 L796.8,469.6 L799.3,469.2 L801.8,469.2 L804.3,468.4 L806.8,467.9 L809.3,467.9 L811.8,467.9 L814.3,467.9 L816.8,467.7 L819.4,465.8 L821.9,465.8 L824.4,465.8 L826.9,465.8 L829.4,464.1 L831.9,463.7 L834.4,463.7 L836.9,462.9 L839.4,462.9 L841.9,462.9 L844.4,462.9 L846.9,461.3 L849.4,460.9 L851.9,460.9 L854.4,460.1 L856.9,460.1 L859.4,459.3 L861.9,458.9 L864.4,458.9 L866.9,458.1 L869.4,458.1 L871.9,458.1 L874.4,458.1 L876.9,456.5 L879.4,456.1 L882.0,456.1 L884.5,456.1 L887.0,456.1 L889.5,455.6 L892.0,455.6 L894.5,455.6 L897.0,455.6 L899.5,455.6 L902.0,455.6 L904.5,455.6 L907.0,455.6 L909.5,455.6 L912.0,455.2 L914.5,454.8 L917.0,454.3 L919.5,453.9 L922.0,453.5 L924.5,453.1 L927.0,452.7 L929.5,450.7 L932.0,450.3 L934.5,450.3 L937.0,449.5 L939.5,449.5 L942.0,448.7 L944.5,448.2 L947.0,448.2 L949.5,448.2 L952.1,447.0 L954.6,447.0 L957.1,447.0 L959.6,447.0 L962.1,446.8 L964.6,446.4 L967.1,446.1 L969.6,444.2 L972.1,444.2 L974.6,444.2 L977.1,444.2 L979.6,444.2 L982.1,444.0 L984.6,443.6 L987.1,441.8 L989.6,441.8 L992.1,441.8 L994.6,441.8 L997.1,441.8 L999.6,441.6 L1002.1,441.2 L1004.6,440.9 L1007.1,440.5 L1009.6,440.2 L1012.1,439.8 L1014.6,439.5 L1017.2,437.6 L1019.7,437.6 L1022.2,437.6 L1024.7,437.6 L1027.2,436.3 L1029.7,436.3 L1032.2,435.6 L1034.7,435.2 L1037.2,435.2 L1039.7,434.6 L1042.2,434.6 L1044.7,433.9 L1047.2,433.9 L1049.7,433.9 L1052.2,433.9 L1054.7,433.9 L1057.2,433.7 L1059.7,433.4 L1062.2,433.1 L1064.7,432.7 L1067.2,430.9 L1069.7,430.6 L1072.2,430.6 L1074.8,430.6 L1077.2,429.6 L1079.8,429.2 L1082.3,428.9 L1084.8,428.6 L1087.3,428.2 L1089.8,428.2 L1092.3,427.6 L1094.8,427.6 L1097.3,427.6 L1099.8,426.6 L1102.3,426.6 L1104.8,425.9 L1107.3,425.7 L1109.8,425.7 L1112.3,425.7 L1114.8,424.9 L1117.3,424.7 L1119.8,424.7 L1122.3,424.2 L1124.8,424.2 L1127.3,424.2 L1129.8,424.2 L1132.3,424.2 L1134.8,424.2 L1137.3,422.7 L1139.8,422.7 L1142.4,422.7 L1144.9,421.9 L1147.4,421.7 L1149.9,421.7 L1152.4,421.2 L1154.9,420.9 L1157.4,420.9 L1159.9,420.9 L1162.4,420.9 L1164.9,420.9 L1167.4,420.6 L1169.9,418.8 L1172.4,418.4 L1174.9,418.1 L1177.4,418.1 L1179.9,417.4 L1182.4,417.4 L1184.9,417.4 L1187.4,417.4 L1189.9,417.4 L1192.4,417.1 L1194.9,416.8 L1197.4,416.4 L1200.0,414.6 L1202.5,414.6 L1205.0,414.6 L1207.5,414.6 L1210.0,414.6 L1212.5,414.6 L1215.0,414.6 L1217.5,413.3 L1220.0,413.3 L1222.5,413.0 L1225.0,413.0 L1227.5,413.0 L1230.0,413.0 L1232.5,413.0 L1235.0,413.0 L1237.5,413.0 L1240.0,413.0 L1242.5,411.9 L1245.0,411.9 L1247.5,411.7 L1250.0,411.7 L1252.5,411.4 L1255.0,411.3 L1257.5,411.1 L1260.0,411.1 L1262.5,411.1 L1265.0,410.7 L1267.5,410.7 L1270.1,410.7 L1272.6,410.7 L1275.1,410.7 L1277.6,410.1 L1280.1,410.1 L1282.6,410.1 L1285.1,409.1 L1287.6,408.7 L1290.1,408.3 L1292.6,408.0 L1295.1,408.0 L1297.6,408.0 L1300.1,408.0 L1302.6,408.0 L1305.1,407.6 L1307.6,407.2 L1310.1,405.3 L1312.6,405.3 L1315.1,405.3 L1317.6,405.3 L1320.1,403.8 L1322.6,403.8 L1325.1,403.8 L1327.7,403.8 L1330.2,403.8 L1332.7,403.6 L1335.2,403.3 L1337.7,403.0 L1340.2,401.2 L1342.7,401.2 L1345.2,400.7 L1347.7,400.4 L1350.2,400.4 L1352.7,399.8 L1355.2,399.8 L1357.7,399.3 L1360.2,399.3 L1362.7,399.3 L1365.2,399.3 L1367.7,399.3 L1370.2,397.9 L1372.7,397.9 L1375.2,397.3 L1377.7,397.0 L1380.2,396.7 L1382.7,396.7 L1385.2,396.1 L1387.7,395.8 L1390.2,395.5 L1392.8,395.2 L1395.2,395.2 L1397.8,395.2 L1400.3,395.2 L1402.8,395.2 L1405.3,395.1 L1407.8,394.8 L1410.3,393.0 L1412.8,393.0 L1415.3,393.0 L1417.8,393.0 L1420.3,393.0 L1422.8,393.0 L1425.3,391.2 L1427.8,391.2 L1430.3,390.6 L1432.8,390.6 L1435.3,390.6 L1437.8,390.6 L1440.3,390.6 L1442.8,389.0 L1445.3,389.0 L1447.8,389.0 L1450.3,389.0 L1452.8,387.8 L1455.3,387.8 L1457.8,387.8 L1460.3,387.8 L1462.9,387.8 L1465.4,387.8 L1467.9,386.0 L1470.4,386.0 L1472.9,386.0 L1475.4,386.0 L1477.9,384.7 L1480.4,384.4 L1482.9,384.1 L1485.4,383.8 L1487.9,383.8 L1490.4,383.2 L1492.9,383.2 L1495.4,383.2 L1497.9,382.3 L1500.4,382.3 L1502.9,381.4 L1505.4,380.8 L1507.9,380.8 L1510.4,380.8 L1512.9,379.2 L1515.4,378.6 L1518.0,378.1 L1520.5,377.5 L1523.0,377.5 L1525.5,377.5 L1528.0,377.4 L1530.5,376.9 L1533.0,376.3 L1535.5,375.8 L1538.0,375.2 L1540.5,373.2 L1543.0,373.2 L1545.5,373.2 L1548.0,373.0 L1550.5,372.5 L1553.0,370.4 L1555.5,370.4 L1558.0,370.4 L1560.5,370.3 L1563.0,369.8 L1565.5,369.2 L1568.0,367.2 L1570.5,367.2 L1573.0,367.2 L1575.5,367.0 L1578.0,366.5 L1580.5,364.4 L1583.0,364.4 L1585.5,364.4 L1588.1,364.2 L1590.6,362.2 L1593.1,361.6 L1595.6,361.0 L1598.1,361.0 L1600.6,361.0 L1603.1,360.9 L1605.6,360.3 L1608.1,359.7 L1610.6,359.2 L1613.1,358.6 L1615.6,358.0 L1618.1,356.0 L1620.6,355.4 L1623.1,355.4 L1625.6,355.4 L1628.1,355.2 L1630.6,354.7 L1633.1,352.6 L1635.6,352.0 L1638.1,352.0 L1640.6,352.0 L1643.1,351.8 L1645.7,349.8 L1648.2,349.8 L1650.7,348.7 L1653.2,348.1 L1655.7,348.1 L1658.2,347.0 L1660.7,347.0 L1663.2,347.0 L1665.7,346.8 L1668.2,346.2 L1670.7,345.6 L1673.2,345.1 L1675.7,343.0 L1678.2,343.0 L1680.7,343.0 L1683.2,342.8 L1685.7,342.2 L1688.2,341.7 L1690.7,341.1 L1693.2,339.0 L1695.7,339.0 L1698.2,337.9 L1700.7,337.4 L1703.2,337.4 L1705.7,337.4 L1708.2,336.0 L1710.8,336.0 L1713.2,336.0 L1715.8,334.7 L1718.3,334.7 L1720.8,333.8 L1723.3,333.8 L1725.8,333.8 L1728.3,332.5 L1730.8,332.2 L1733.3,332.2 L1735.8,331.8 L1738.3,331.5 L1740.8,331.3 L1743.3,331.1 L1745.8,331.1 L1748.3,331.1 L1750.8,331.1 L1753.3,331.1 L1755.8,329.9 L1758.3,329.9 L1760.8,329.9 L1763.3,329.9 L1765.8,329.9 L1768.3,329.9 L1770.8,329.9 L1773.3,329.9 L1775.8,328.7 L1778.3,328.7 L1780.9,328.7 L1783.4,328.7 L1785.9,328.4 L1788.4,328.4 L1790.9,328.2 L1793.4,328.2 L1795.9,328.1 L1798.4,328.1 L1800.9,328.1 L1803.4,328.1 L1805.9,328.1 L1808.4,328.1 L1810.9,328.1 L1813.4,328.1 L1815.9,328.1 L1818.4,328.1 L1820.9,328.1 L1823.4,327.3 L1825.9,327.3 L1828.4,327.3 L1830.9,327.3 L1833.4,327.3 L1835.9,326.9 L1838.5,326.9 L1841.0,326.8 L1843.5,326.7 L1846.0,326.6 L1848.5,326.6 L1851.0,326.5 L1853.5,326.5 L1856.0,326.4 L1858.5,326.3 L1861.0,326.3 L1863.5,326.2 L1866.0,326.2 L1868.5,326.2 L1871.0,326.2" stroke="#d35fe0"/>
<path d="M438.8,515.5 L441.2,515.5 L443.8,515.5 L446.3,515.5 L448.8,515.5 L451.3,515.5 L453.8,515.5 L456.3,515.4 L458.8,515.2 L461.3,515.2 L463.8,515.2 L466.3,514.6 L468.8,514.3 L471.3,514.3 L473.8,514.3 L476.3,514.3 L478.8,514.3 L481.3,514.3 L483.8,513.0 L486.3,512.8 L488.8,512.6 L491.3,512.6 L493.8,512.6 L496.3,512.6 L498.8,512.6 L501.4,511.5 L503.9,511.5 L506.4,511.5 L508.9,511.5 L511.4,511.5 L513.9,510.4 L516.4,510.4 L518.9,510.4 L521.4,510.4 L523.9,510.4 L526.4,510.4 L528.9,509.0 L531.4,509.0 L533.9,509.0 L536.4,508.4 L538.9,508.4 L541.4,508.4 L543.9,508.4 L546.4,508.4 L548.9,508.4 L551.4,508.4 L553.9,508.4 L556.4,506.6 L558.9,506.4 L561.4,506.4 L564.0,506.4 L566.5,505.7 L569.0,505.5 L571.5,505.3 L574.0,505.0 L576.5,505.0 L579.0,505.0 L581.5,505.0 L584.0,505.0 L586.5,502.8 L589.0,502.8 L591.5,502.8 L594.0,502.8 L596.5,500.0 L599.0,499.4 L601.5,498.7 L604.0,498.7 L606.5,498.7 L609.0,498.7 L611.5,496.0 L614.0,496.0 L616.5,494.6 L619.0,494.0 L621.5,494.0 L624.0,494.0 L626.5,491.9 L629.0,491.3 L631.5,490.8 L634.1,490.4 L636.6,490.4 L639.1,489.6 L641.6,489.6 L644.1,489.6 L646.6,489.6 L649.1,489.6 L651.6,489.6 L654.1,489.6 L656.6,486.7 L659.1,486.3 L661.6,485.9 L664.1,485.9 L666.6,485.1 L669.1,485.1 L671.6,485.1 L674.1,485.1 L676.6,485.1 L679.1,485.1 L681.6,485.1 L684.1,485.1 L686.6,482.7 L689.1,482.7 L691.6,482.7 L694.1,482.4 L696.7,482.4 L699.2,482.4 L701.7,482.1 L704.2,482.1 L706.7,482.1 L709.2,482.1 L711.7,481.7 L714.2,481.7 L716.7,481.7 L719.2,481.7 L721.7,481.7 L724.2,481.7 L726.7,481.7 L729.2,481.7 L731.7,481.7 L734.2,481.7 L736.7,481.7 L739.2,481.7 L741.7,479.5 L744.2,479.2 L746.7,478.8 L749.2,478.5 L751.7,478.5 L754.2,478.5 L756.8,478.5 L759.2,477.2 L761.8,477.2 L764.3,476.5 L766.8,476.2 L769.3,476.2 L771.8,476.2 L774.3,476.2 L776.8,476.2 L779.3,476.2 L781.8,476.2 L784.3,473.8 L786.8,473.3 L789.3,473.3 L791.8,473.3 L794.3,473.3 L796.8,473.3 L799.3,473.3 L801.8,470.8 L804.3,470.8 L806.8,469.9 L809.3,469.9 L811.8,469.1 L814.3,469.1 L816.8,468.2 L819.4,468.2 L821.9,467.4 L824.4,467.4 L826.9,467.4 L829.4,467.4 L831.9,467.4 L834.4,467.4 L836.9,464.9 L839.4,464.9 L841.9,464.9 L844.4,463.7 L846.9,463.7 L849.4,463.7 L851.9,462.5 L854.4,462.5 L856.9,461.7 L859.4,461.3 L861.9,461.3 L864.4,461.3 L866.9,460.1 L869.4,460.1 L871.9,460.1 L874.4,460.1 L876.9,460.1 L879.4,458.1 L882.0,458.1 L884.5,457.8 L887.0,457.8 L889.5,457.8 L892.0,457.8 L894.5,457.4 L897.0,457.4 L899.5,457.4 L902.0,457.3 L904.5,457.2 L907.0,456.3 L909.5,456.2 L912.0,456.1 L914.5,454.7 L917.0,454.7 L919.5,453.7 L922.0,453.6 L924.5,453.6 L927.0,453.5 L929.5,453.4 L932.0,453.3 L934.5,453.2 L937.0,450.2 L939.5,450.1 L942.0,450.0 L944.5,448.7 L947.0,448.6 L949.5,448.5 L952.1,447.2 L954.6,447.1 L957.1,447.0 L959.6,445.7 L962.1,445.6 L964.6,444.7 L967.1,444.6 L969.6,444.5 L972.1,444.4 L974.6,444.3 L977.1,444.2 L979.6,442.1 L982.1,442.0 L984.6,441.9 L987.1,440.8 L989.6,440.7 L992.1,439.9 L994.6,439.8 L997.1,439.7 L999.6,439.6 L1002.1,439.6 L1004.6,439.6 L1007.1,437.5 L1009.6,437.5 L1012.1,436.8 L1014.6,436.8 L1017.2,436.1 L1019.7,435.8 L1022.2,435.4 L1024.7,435.1 L1027.2,434.8 L1029.7,434.8 L1032.2,434.8 L1034.7,434.8 L1037.2,433.4 L1039.7,433.1 L1042.2,433.1 L1044.7,433.1 L1047.2,432.1 L1049.7,432.1 L1052.2,432.1 L1054.7,432.1 L1057.2,432.1 L1059.7,430.4 L1062.2,430.4 L1064.7,430.4 L1067.2,430.4 L1069.7,430.4 L1072.2,428.7 L1074.8,428.7 L1077.2,428.7 L1079.8,428.7 L1082.3,427.4 L1084.8,427.1 L1087.3,426.7 L1089.8,426.7 L1092.3,426.1 L1094.8,425.7 L1097.3,425.7 L1099.8,425.7 L1102.3,424.7 L1104.8,424.7 L1107.3,424.2 L1109.8,424.2 L1112.3,424.2 L1114.8,423.4 L1117.3,423.4 L1119.8,423.4 L1122.3,423.4 L1124.8,423.4 L1127.3,422.2 L1129.8,421.9 L1132.3,421.9 L1134.8,421.9 L1137.3,421.2 L1139.8,421.2 L1142.4,421.2 L1144.9,420.4 L1147.4,420.2 L1149.9,420.2 L1152.4,419.7 L1154.9,419.7 L1157.4,419.0 L1159.9,419.0 L1162.4,419.0 L1164.9,419.0 L1167.4,419.0 L1169.9,419.0 L1172.4,416.9 L1174.9,416.9 L1177.4,416.2 L1179.9,415.9 L1182.4,415.5 L1184.9,415.2 L1187.4,415.2 L1189.9,415.2 L1192.4,414.1 L1194.9,414.1 L1197.4,414.1 L1200.0,414.1 L1202.5,412.7 L1205.0,412.7 L1207.5,412.7 L1210.0,412.2 L1212.5,412.0 L1215.0,412.0 L1217.5,412.0 L1220.0,411.6 L1222.5,411.6 L1225.0,411.6 L1227.5,411.6 L1230.0,411.6 L1232.5,411.6 L1235.0,411.6 L1237.5,411.6 L1240.0,411.6 L1242.5,410.4 L1245.0,410.3 L1247.5,410.2 L1250.0,410.2 L1252.5,410.2 L1255.0,410.2 L1257.5,410.2 L1260.0,410.2 L1262.5,410.2 L1265.0,409.2 L1267.5,409.2 L1270.1,409.0 L1272.6,408.8 L1275.1,408.8 L1277.6,408.6 L1280.1,408.6 L1282.6,408.6 L1285.1,408.6 L1287.6,407.2 L1290.1,406.8 L1292.6,406.5 L1295.1,406.1 L1297.6,406.1 L1300.1,406.1 L1302.6,405.0 L1305.1,404.6 L1307.6,404.2 L1310.1,403.8 L1312.6,403.8 L1315.1,403.8 L1317.6,402.7 L1320.1,402.3 L1322.6,402.3 L1325.1,401.6 L1327.7,401.6 L1330.2,401.6 L1332.7,400.6 L1335.2,400.6 L1337.7,400.6 L1340.2,400.6 L1342.7,400.6 L1345.2,400.6 L1347.7,400.6 L1350.2,398.6 L1352.7,398.3 L1355.2,398.3 L1357.7,398.3 L1360.2,398.3 L1362.7,398.3 L1365.2,398.3 L1367.7,398.3 L1370.2,396.4 L1372.7,396.1 L1375.2,396.1 L1377.7,396.1 L1380.2,395.2 L1382.7,395.2 L1385.2,395.2 L1387.7,394.3 L1390.2,394.0 L1392.8,393.7 L1395.2,393.7 L1397.8,393.7 L1400.3,392.8 L1402.8,392.8 L1405.3,392.8 L1407.8,392.8 L1410.3,392.8 L1412.8,392.8 L1415.3,390.9 L1417.8,390.6 L1420.3,390.6 L1422.8,390.0 L1425.3,390.0 L1427.8,390.0 L1430.3,389.1 L1432.8,388.8 L1435.3,388.8 L1437.8,388.8 L1440.3,388.8 L1442.8,388.8 L1445.3,388.8 L1447.8,386.9 L1450.3,386.9 L1452.8,386.3 L1455.3,386.0 L1457.8,386.0 L1460.3,386.0 L1462.9,386.0 L1465.4,386.0 L1467.9,386.0 L1470.4,384.1 L1472.9,383.8 L1475.4,383.8 L1477.9,383.2 L1480.4,383.2 L1482.9,383.2 L1485.4,383.2 L1487.9,383.2 L1490.4,383.2 L1492.9,383.2 L1495.4,383.2 L1497.9,383.2 L1500.4,383.2 L1502.9,379.9 L1505.4,379.9 L1507.9,379.9 L1510.4,379.9 L1512.9,379.9 L1515.4,379.9 L1518.0,376.6 L1520.5,376.0 L1523.0,376.0 L1525.5,376.0 L1528.0,374.4 L1530.5,374.4 L1533.0,374.4 L1535.5,372.8 L1538.0,372.8 L1540.5,371.7 L1543.0,371.7 L1545.5,371.7 L1548.0,371.7 L1550.5,371.7 L1553.0,371.7 L1555.5,368.4 L1558.0,367.9 L1560.5,367.9 L1563.0,367.9 L1565.5,367.9 L1568.0,367.9 L1570.5,365.1 L1573.0,365.1 L1575.5,364.0 L1578.0,364.0 L1580.5,362.9 L1583.0,362.9 L1585.5,362.9 L1588.1,362.9 L1590.6,360.7 L1593.1,360.7 L1595.6,360.7 L1598.1,359.0 L1600.6,359.0 L1603.1,359.0 L1605.6,359.0 L1608.1,356.7 L1610.6,356.7 L1613.1,356.7 L1615.6,356.7 L1618.1,354.5 L1620.6,353.9 L1623.1,353.4 L1625.6,353.4 L1628.1,353.4 L1630.6,351.7 L1633.1,351.7 L1635.6,351.7 L1638.1,351.7 L1640.6,349.4 L1643.1,349.4 L1645.7,349.4 L1648.2,349.4 L1650.7,349.4 L1653.2,349.4 L1655.7,349.4 L1658.2,349.4 L1660.7,349.4 L1663.2,344.3 L1665.7,343.8 L1668.2,343.2 L1670.7,342.6 L1673.2,342.1 L1675.7,341.5 L1678.2,341.5 L1680.7,341.5 L1683.2,339.8 L1685.7,339.8 L1688.2,338.7 L1690.7,338.7 L1693.2,338.7 L1695.7,338.7 L1698.2,338.7 L1700.7,335.9 L1703.2,335.9 L1705.7,335.9 L1708.2,335.9 L1710.8,334.1 L1713.2,333.6 L1715.8,333.2 L1718.3,333.2 L1720.8,333.2 L1723.3,331.8 L1725.8,331.8 L1728.3,331.8 L1730.8,330.7 L1733.3,330.7 L1735.8,330.7 L1738.3,330.7 L1740.8,330.7 L1743.3,330.7 L1745.8,329.3 L1748.3,329.3 L1750.8,329.3 L1753.3,328.6 L1755.8,328.4 L1758.3,328.4 L1760.8,327.9 L1763.3,327.9 L1765.8,327.9 L1768.3,327.9 L1770.8,327.3 L1773.3,327.3 L1775.8,327.3 L1778.3,327.3 L1780.9,327.0 L1783.4,327.0 L1785.9,326.9 L1788.4,326.9 L1790.9,326.7 L1793.4,326.7 L1795.9,326.7 L1798.4,326.7 L1800.9,326.7 L1803.4,326.7 L1805.9,326.7 L1808.4,326.7 L1810.9,326.2 L1813.4,326.2 L1815.9,326.2 L1818.4,326.2 L1820.9,326.2 L1823.4,326.2 L1825.9,326.2 L1828.4,326.2 L1830.9,326.2 L1833.4,326.2 L1835.9,326.2 L1838.5,325.4 L1841.0,325.4 L1843.5,325.4 L1846.0,325.1 L1848.5,325.1 L1851.0,325.1 L1853.5,325.1 L1856.0,324.9 L1858.5,324.9 L1861.0,324.9 L1863.5,324.9 L1866.0,324.6 L1868.5,324.6 L1871.0,324.6" stroke="#5b9cf8"/>
<path d="M438.8,482.0 L441.2,470.0 L443.8,428.0 L446.3,429.2 L448.8,432.7 L451.3,384.0 L453.8,392.9 L456.3,429.6 L458.8,388.0 L461.3,401.4 L463.8,426.4 L466.3,425.2 L468.8,424.6 L471.3,424.2 L473.8,412.4 L476.3,410.1 L478.8,385.9 L481.3,431.9 L483.8,433.3 L486.3,429.5 L488.8,457.4 L491.3,438.1 L493.8,443.9 L496.3,451.8 L498.8,423.6 L501.4,457.3 L503.9,447.4 L506.4,432.1 L508.9,452.3 L511.4,450.7 L513.9,429.4 L516.4,417.2 L518.9,446.1 L521.4,426.5 L523.9,419.8 L526.4,427.1 L528.9,451.7 L531.4,454.1 L533.9,416.7 L536.4,441.0 L538.9,425.7 L541.4,430.3 L543.9,460.0 L546.4,445.1 L548.9,445.9 L551.4,447.1 L553.9,464.2 L556.4,429.7 L558.9,403.0 L561.4,424.7 L564.0,383.6 L566.5,387.8 L569.0,402.8 L571.5,399.4 L574.0,380.8 L576.5,412.7 L579.0,399.6 L581.5,422.0 L584.0,424.9 L586.5,427.2 L589.0,386.7 L591.5,420.3 L594.0,419.8 L596.5,406.5 L599.0,421.7 L601.5,428.2 L604.0,425.6 L606.5,427.8 L609.0,393.2 L611.5,401.1 L614.0,389.3 L616.5,431.3 L619.0,433.5 L621.5,341.0 L624.0,438.0 L626.5,445.8 L629.0,399.6 L631.5,425.6 L634.1,416.7 L636.6,443.1 L639.1,435.7 L641.6,436.8 L644.1,341.0 L646.6,404.5 L649.1,393.6 L651.6,416.0 L654.1,432.0 L656.6,386.5 L659.1,362.0 L661.6,448.8 L664.1,435.4 L666.6,430.9 L669.1,434.3 L671.6,420.2 L674.1,397.6 L676.6,427.7 L679.1,384.3 L681.6,377.3 L684.1,408.4 L686.6,406.2 L689.1,373.1 L691.6,373.3 L694.1,430.0 L696.7,396.7 L699.2,437.4 L701.7,413.4 L704.2,377.9 L706.7,472.0 L709.2,420.0 L711.7,350.0 L714.2,431.8 L716.7,424.8 L719.2,405.1 L721.7,400.0 L724.2,427.5 L726.7,376.9 L729.2,350.0 L731.7,433.3 L734.2,426.3 L736.7,393.1 L739.2,406.1 L741.7,416.1 L744.2,417.1 L746.7,390.9 L749.2,382.6 L751.7,371.6 L754.2,370.4 L756.8,391.6 L759.2,418.6 L761.8,359.0 L764.3,390.6 L766.8,414.1 L769.3,395.8 L771.8,384.5 L774.3,413.8 L776.8,383.4 L779.3,409.2 L781.8,426.7 L784.3,422.4 L786.8,405.2 L789.3,403.6 L791.8,394.0 L794.3,411.9 L796.8,409.7 L799.3,413.4 L801.8,390.3 L804.3,418.7 L806.8,420.1 L809.3,440.0 L811.8,440.6 L814.3,426.5 L816.8,410.7 L819.4,410.9 L821.9,440.3 L824.4,394.9 L826.9,386.8 L829.4,404.1 L831.9,395.4 L834.4,408.8 L836.9,412.9 L839.4,431.6 L841.9,421.5 L844.4,450.0 L846.9,446.5 L849.4,449.7 L851.9,425.0 L854.4,439.8 L856.9,393.2 L859.4,433.3 L861.9,411.1 L864.4,449.9 L866.9,395.6 L869.4,447.1 L871.9,386.3 L874.4,415.1 L876.9,402.5 L879.4,446.5 L882.0,448.7 L884.5,337.5 L887.0,397.6 L889.5,415.5 L892.0,448.9 L894.5,429.2 L897.0,410.2 L899.5,437.4 L902.0,389.3 L904.5,416.3 L907.0,430.6 L909.5,410.9 L912.0,403.2 L914.5,404.0 L917.0,454.9 L919.5,423.1 L922.0,430.4 L924.5,388.3 L927.0,431.5 L929.5,428.3 L932.0,448.7 L934.5,396.2 L937.0,417.1 L939.5,449.1 L942.0,422.3 L944.5,416.1 L947.0,443.6 L949.5,397.8 L952.1,390.5 L954.6,362.5 L957.1,435.0 L959.6,390.9 L962.1,362.5 L964.6,385.2 L967.1,394.1 L969.6,437.2 L972.1,417.5 L974.6,419.6 L977.1,438.3 L979.6,414.0 L982.1,413.9 L984.6,393.5 L987.1,425.9 L989.6,419.9 L992.1,402.8 L994.6,389.7 L997.1,442.4 L999.6,435.1 L1002.1,405.5 L1004.6,386.3 L1007.1,389.4 L1009.6,447.7 L1012.1,395.0 L1014.6,424.6 L1017.2,428.2 L1019.7,412.5 L1022.2,433.8 L1024.7,418.7 L1027.2,380.7 L1029.7,387.8 L1032.2,409.3 L1034.7,436.5 L1037.2,408.3 L1039.7,431.4 L1042.2,432.3 L1044.7,437.2 L1047.2,430.6 L1049.7,408.3 L1052.2,401.7 L1054.7,392.7 L1057.2,391.0 L1059.7,397.7 L1062.2,397.4 L1064.7,408.5 L1067.2,440.4 L1069.7,395.6 L1072.2,398.9 L1074.8,401.9 L1077.2,393.2 L1079.8,449.0 L1082.3,423.0 L1084.8,442.3 L1087.3,433.3 L1089.8,465.0 L1092.3,442.2 L1094.8,395.5 L1097.3,395.2 L1099.8,425.7 L1102.3,414.0 L1104.8,412.2 L1107.3,429.5 L1109.8,375.0 L1112.3,389.4 L1114.8,390.8 L1117.3,414.9 L1119.8,396.1 L1122.3,430.0 L1124.8,422.3 L1127.3,433.4 L1129.8,424.9 L1132.3,395.8 L1134.8,417.2 L1137.3,411.4 L1139.8,400.2 L1142.4,391.2 L1144.9,367.5 L1147.4,442.7 L1149.9,415.3 L1152.4,443.5 L1154.9,440.0 L1157.4,449.3 L1159.9,400.5 L1162.4,399.7 L1164.9,392.3 L1167.4,419.4 L1169.9,449.5 L1172.4,402.3 L1174.9,410.7 L1177.4,420.8 L1179.9,392.7 L1182.4,404.2 L1184.9,404.5 L1187.4,376.0 L1189.9,397.2 L1192.4,401.2 L1194.9,417.9 L1197.4,429.5 L1200.0,417.3 L1202.5,402.5 L1205.0,422.6 L1207.5,409.4 L1210.0,414.9 L1212.5,442.3 L1215.0,396.9 L1217.5,470.0 L1220.0,395.3 L1222.5,441.5 L1225.0,392.5 L1227.5,433.7 L1230.0,439.4 L1232.5,431.2 L1235.0,449.2 L1237.5,437.6 L1240.0,425.5 L1242.5,449.3 L1245.0,481.0 L1247.5,431.2 L1250.0,440.3 L1252.5,431.6 L1255.0,471.8 L1257.5,457.8 L1260.0,424.6 L1262.5,422.4 L1265.0,459.6 L1267.5,483.0 L1270.1,469.0 L1272.6,451.4 L1275.1,452.2 L1277.6,445.8 L1280.1,439.2 L1282.6,462.3 L1285.1,478.9 L1287.6,426.5 L1290.1,418.8 L1292.6,435.5 L1295.1,443.5 L1297.6,459.6 L1300.1,418.2 L1302.6,466.8 L1305.1,423.0 L1307.6,439.1 L1310.1,466.7 L1312.6,444.5 L1315.1,455.4 L1317.6,468.2 L1320.1,465.9 L1322.6,455.9 L1325.1,468.7 L1327.7,431.4 L1330.2,460.0 L1332.7,452.1 L1335.2,468.6 L1337.7,474.3 L1340.2,428.9 L1342.7,467.0 L1345.2,473.3 L1347.7,463.3 L1350.2,423.0 L1352.7,479.6 L1355.2,466.9 L1357.7,427.2 L1360.2,455.8 L1362.7,442.9 L1365.2,428.7 L1367.7,449.8 L1370.2,466.4 L1372.7,432.7 L1375.2,479.3 L1377.7,481.2 L1380.2,472.7 L1382.7,419.3 L1385.2,418.9 L1387.7,423.9 L1390.2,457.5 L1392.8,457.8 L1395.2,482.3 L1397.8,474.2 L1400.3,429.8 L1402.8,482.3 L1405.3,423.9 L1407.8,426.0 L1410.3,448.7 L1412.8,427.9 L1415.3,429.0 L1417.8,431.3 L1420.3,467.8 L1422.8,445.8 L1425.3,417.5 L1427.8,481.6 L1430.3,431.0 L1432.8,461.9 L1435.3,482.2 L1437.8,446.0 L1440.3,416.1 L1442.8,442.6 L1445.3,440.2 L1447.8,460.3 L1450.3,409.4 L1452.8,457.9 L1455.3,427.2 L1457.8,403.1 L1460.3,414.8 L1462.9,424.6 L1465.4,412.4 L1467.9,436.6 L1470.4,440.2 L1472.9,406.2 L1475.4,406.9 L1477.9,422.6 L1480.4,450.3 L1482.9,429.8 L1485.4,446.2 L1487.9,458.3 L1490.4,403.8 L1492.9,452.0 L1495.4,420.5 L1497.9,422.0 L1500.4,425.3 L1502.9,444.0 L1505.4,388.0 L1507.9,348.0 L1510.4,365.4 L1512.9,380.6 L1515.4,360.5 L1518.0,412.7 L1520.5,403.7 L1523.0,404.8 L1525.5,391.1 L1528.0,355.2 L1530.5,380.0 L1533.0,356.7 L1535.5,360.1 L1538.0,395.2 L1540.5,396.9 L1543.0,401.6 L1545.5,387.1 L1548.0,368.9 L1550.5,373.0 L1553.0,401.5 L1555.5,400.3 L1558.0,356.9 L1560.5,350.0 L1563.0,404.4 L1565.5,408.2 L1568.0,399.8 L1570.5,403.5 L1573.0,410.0 L1575.5,351.4 L1578.0,412.1 L1580.5,404.6 L1583.0,391.0 L1585.5,399.4 L1588.1,365.7 L1590.6,384.2 L1593.1,405.2 L1595.6,391.1 L1598.1,376.6 L1600.6,345.0 L1603.1,411.8 L1605.6,363.5 L1608.1,409.7 L1610.6,398.1 L1613.1,351.7 L1615.6,400.6 L1618.1,363.6 L1620.6,365.0 L1623.1,353.6 L1625.6,364.5 L1628.1,371.0 L1630.6,356.9 L1633.1,354.5 L1635.6,371.7 L1638.1,354.0 L1640.6,340.0 L1643.1,369.3 L1645.7,365.7 L1648.2,362.1 L1650.7,376.8 L1653.2,383.8 L1655.7,362.6 L1658.2,395.4 L1660.7,410.8 L1663.2,409.5 L1665.7,412.3 L1668.2,361.3 L1670.7,377.3 L1673.2,329.0 L1675.7,396.0 L1678.2,387.9 L1680.7,381.3 L1683.2,384.5 L1685.7,361.8 L1688.2,432.6 L1690.7,439.9 L1693.2,448.8 L1695.7,442.6 L1698.2,442.1 L1700.7,430.8 L1703.2,454.9 L1705.7,448.3 L1708.2,457.7 L1710.8,451.7 L1713.2,429.1 L1715.8,415.7 L1718.3,420.9 L1720.8,417.7 L1723.3,449.3 L1725.8,456.5 L1728.3,470.8 L1730.8,424.6 L1733.3,462.8 L1735.8,421.7 L1738.3,416.8 L1740.8,468.5 L1743.3,464.7 L1745.8,436.8 L1748.3,472.9 L1750.8,479.3 L1753.3,443.7 L1755.8,438.5 L1758.3,441.8 L1760.8,460.5 L1763.3,484.9 L1765.8,447.8 L1768.3,473.4 L1770.8,442.5 L1773.3,440.0 L1775.8,452.4 L1778.3,471.9 L1780.9,436.5 L1783.4,470.9 L1785.9,445.4 L1788.4,469.4 L1790.9,440.6 L1793.4,475.4 L1795.9,444.0 L1798.4,435.6 L1800.9,454.7 L1803.4,459.3 L1805.9,485.0 L1808.4,466.2 L1810.9,495.4 L1813.4,449.9 L1815.9,459.1 L1818.4,453.8 L1820.9,463.2 L1823.4,469.2 L1825.9,495.9 L1828.4,493.5 L1830.9,454.9 L1833.4,480.5 L1835.9,491.9 L1838.5,494.5 L1841.0,501.7 L1843.5,483.4 L1846.0,489.7 L1848.5,494.5 L1851.0,491.9 L1853.5,475.9 L1856.0,483.9 L1858.5,475.0 L1861.0,505.0 L1863.5,473.6 L1866.0,504.3 L1868.5,473.3 L1871.0,475.0" stroke="#2fd0f5"/>
<path d="M438.8,507.9 L441.2,507.9 L443.8,506.4 L446.3,503.9 L448.8,503.6 L451.3,504.9 L453.8,501.9 L456.3,497.9 L458.8,500.7 L461.3,492.0 L463.8,492.5 L466.3,493.4 L468.8,497.4 L471.3,498.0 L473.8,498.2 L476.3,505.0 L478.8,501.4 L481.3,502.4 L483.8,494.1 L486.3,497.6 L488.8,497.1 L491.3,492.1 L493.8,501.9 L496.3,501.8 L498.8,501.6 L501.4,492.3 L503.9,501.3 L506.4,501.9 L508.9,494.4 L511.4,493.9 L513.9,493.5 L516.4,494.1 L518.9,502.2 L521.4,493.9 L523.9,504.6 L526.4,504.5 L528.9,494.1 L531.4,504.2 L533.9,501.6 L536.4,493.6 L538.9,493.7 L541.4,494.7 L543.9,499.5 L546.4,465.0 L548.9,493.5 L551.4,502.0 L553.9,500.1 L556.4,485.3 L558.9,489.5 L561.4,477.2 L564.0,494.6 L566.5,486.6 L569.0,492.1 L571.5,478.1 L574.0,488.3 L576.5,495.6 L579.0,478.3 L581.5,477.8 L584.0,484.5 L586.5,495.5 L589.0,488.8 L591.5,489.5 L594.0,477.1 L596.5,489.4 L599.0,480.0 L601.5,489.3 L604.0,486.2 L606.5,484.1 L609.0,471.0 L611.5,496.9 L614.0,499.2 L616.5,495.6 L619.0,499.3 L621.5,496.4 L624.0,499.3 L626.5,502.9 L629.0,488.4 L631.5,501.4 L634.1,503.7 L636.6,504.2 L639.1,492.8 L641.6,489.4 L644.1,503.5 L646.6,493.7 L649.1,500.2 L651.6,495.0 L654.1,489.9 L656.6,504.5 L659.1,493.6 L661.6,504.1 L664.1,497.5 L666.6,495.3 L669.1,488.1 L671.6,497.7 L674.1,498.6 L676.6,488.0 L679.1,487.8 L681.6,495.4 L684.1,493.7 L686.6,499.2 L689.1,490.1 L691.6,490.0 L694.1,493.4 L696.7,470.0 L699.2,468.2 L701.7,445.0 L704.2,489.3 L706.7,476.9 L709.2,483.8 L711.7,474.9 L714.2,463.5 L716.7,461.7 L719.2,473.5 L721.7,474.9 L724.2,490.3 L726.7,466.8 L729.2,462.8 L731.7,481.5 L734.2,476.4 L736.7,482.2 L739.2,486.1 L741.7,464.6 L744.2,484.6 L746.7,465.9 L749.2,487.4 L751.7,481.9 L754.2,475.4 L756.8,480.0 L759.2,466.3 L761.8,463.9 L764.3,444.6 L766.8,438.2 L769.3,468.0 L771.8,439.9 L774.3,452.3 L776.8,457.3 L779.3,326.0 L781.8,326.0 L784.3,450.8 L786.8,457.9 L789.3,466.2 L791.8,480.0 L794.3,424.8 L796.8,379.0 L799.3,396.7 L801.8,385.0 L804.3,416.1 L806.8,452.5 L809.3,427.6 L811.8,408.7 L814.3,429.1 L816.8,449.3 L819.4,454.2 L821.9,380.0 L824.4,412.1 L826.9,414.7 L829.4,407.9 L831.9,480.0 L834.4,422.9 L836.9,434.3 L839.4,430.4 L841.9,456.9 L844.4,428.8 L846.9,445.9 L849.4,445.7 L851.9,447.1 L854.4,441.1 L856.9,448.2 L859.4,461.3 L861.9,438.9 L864.4,410.0 L866.9,454.1 L869.4,460.2 L871.9,458.5 L874.4,422.9 L876.9,438.1 L879.4,421.6 L882.0,433.9 L884.5,403.3 L887.0,384.0 L889.5,430.7 L892.0,409.0 L894.5,440.5 L897.0,409.4 L899.5,459.3 L902.0,461.4 L904.5,473.5 L907.0,463.8 L909.5,456.3 L912.0,478.5 L914.5,466.1 L917.0,460.0 L919.5,468.5 L922.0,473.2 L924.5,469.1 L927.0,468.3 L929.5,479.4 L932.0,472.3 L934.5,478.6 L937.0,474.6 L939.5,473.6 L942.0,468.9 L944.5,474.8 L947.0,475.4 L949.5,476.8 L952.1,474.9 L954.6,466.8 L957.1,464.9 L959.6,466.5 L962.1,468.4 L964.6,462.0 L967.1,355.0 L969.6,457.2 L972.1,479.8 L974.6,465.1 L977.1,402.0 L979.6,480.0 L982.1,459.7 L984.6,462.4 L987.1,469.9 L989.6,465.5 L992.1,463.2 L994.6,469.6 L997.1,481.1 L999.6,474.3 L1002.1,469.9 L1004.6,458.9 L1007.1,462.9 L1009.6,466.4 L1012.1,465.1 L1014.6,464.7 L1017.2,476.0 L1019.7,486.0 L1022.2,486.3 L1024.7,481.8 L1027.2,485.1 L1029.7,477.5 L1032.2,467.4 L1034.7,471.5 L1037.2,485.2 L1039.7,482.3 L1042.2,483.1 L1044.7,485.0 L1047.2,491.4 L1049.7,479.7 L1052.2,490.1 L1054.7,497.4 L1057.2,488.5 L1059.7,490.1 L1062.2,499.9 L1064.7,492.5 L1067.2,480.1 L1069.7,487.6 L1072.2,485.1 L1074.8,484.1 L1077.2,488.4 L1079.8,489.1 L1082.3,500.7 L1084.8,483.7 L1087.3,496.5 L1089.8,486.3 L1092.3,493.8 L1094.8,493.2 L1097.3,501.4 L1099.8,499.1 L1102.3,500.2 L1104.8,488.3 L1107.3,498.4 L1109.8,503.2 L1112.3,490.7 L1114.8,503.0 L1117.3,500.7 L1119.8,494.7 L1122.3,491.0 L1124.8,495.9 L1127.3,499.6 L1129.8,497.5 L1132.3,501.9 L1134.8,499.3 L1137.3,501.8 L1139.8,502.0 L1142.4,493.3 L1144.9,497.3 L1147.4,499.6 L1149.9,495.5 L1152.4,500.6 L1154.9,498.0 L1157.4,497.8 L1159.9,498.5 L1162.4,494.1 L1164.9,489.0 L1167.4,499.1 L1169.9,494.6 L1172.4,492.9 L1174.9,501.7 L1177.4,498.6 L1179.9,502.2 L1182.4,502.1 L1184.9,499.5 L1187.4,500.0 L1189.9,504.3 L1192.4,500.8 L1194.9,501.4 L1197.4,502.3 L1200.0,500.9 L1202.5,500.7 L1205.0,501.7 L1207.5,499.7 L1210.0,490.0 L1212.5,505.1 L1215.0,501.7 L1217.5,496.6 L1220.0,491.2 L1222.5,496.6 L1225.0,490.1 L1227.5,504.3 L1230.0,502.2 L1232.5,492.5 L1235.0,494.8 L1237.5,498.7 L1240.0,496.2 L1242.5,503.8 L1245.0,502.6 L1247.5,493.4 L1250.0,503.8 L1252.5,505.7 L1255.0,501.8 L1257.5,504.9 L1260.0,499.9 L1262.5,491.1 L1265.0,495.1 L1267.5,496.6 L1270.1,504.0 L1272.6,496.8 L1275.1,493.4 L1277.6,498.5 L1280.1,503.1 L1282.6,477.9 L1285.1,472.2 L1287.6,473.9 L1290.1,470.6 L1292.6,471.2 L1295.1,464.7 L1297.6,463.8 L1300.1,462.9 L1302.6,486.6 L1305.1,467.7 L1307.6,493.2 L1310.1,490.8 L1312.6,481.1 L1315.1,457.3 L1317.6,492.0 L1320.1,463.8 L1322.6,459.5 L1325.1,491.9 L1327.7,490.3 L1330.2,488.1 L1332.7,496.5 L1335.2,479.0 L1337.7,472.9 L1340.2,452.7 L1342.7,473.4 L1345.2,495.6 L1347.7,453.8 L1350.2,455.7 L1352.7,459.8 L1355.2,465.2 L1357.7,473.1 L1360.2,489.9 L1362.7,455.0 L1365.2,479.5 L1367.7,483.6 L1370.2,382.0 L1372.7,473.9 L1375.2,491.0 L1377.7,476.0 L1380.2,460.2 L1382.7,484.5 L1385.2,475.7 L1387.7,466.4 L1390.2,481.0 L1392.8,482.0 L1395.2,470.5 L1397.8,450.6 L1400.3,467.7 L1402.8,495.7 L1405.3,470.4 L1407.8,462.3 L1410.3,458.4 L1412.8,466.3 L1415.3,495.6 L1417.8,483.4 L1420.3,457.2 L1422.8,470.6 L1425.3,402.0 L1427.8,453.0 L1430.3,448.3 L1432.8,479.7 L1435.3,492.8 L1437.8,491.8 L1440.3,448.4 L1442.8,450.7 L1445.3,452.4 L1447.8,467.6 L1450.3,465.1 L1452.8,456.4 L1455.3,454.7 L1457.8,465.5 L1460.3,466.1 L1462.9,473.5 L1465.4,478.9 L1467.9,487.8 L1470.4,489.7 L1472.9,481.6 L1475.4,477.1 L1477.9,472.3 L1480.4,454.6 L1482.9,479.4 L1485.4,477.8 L1487.9,469.4 L1490.4,450.9 L1492.9,484.7 L1495.4,473.1 L1497.9,489.1 L1500.4,481.0 L1502.9,468.9 L1505.4,482.4 L1507.9,459.6 L1510.4,460.4 L1512.9,448.2 L1515.4,441.7 L1518.0,431.4 L1520.5,469.6 L1523.0,463.2 L1525.5,476.1 L1528.0,405.0 L1530.5,438.4 L1533.0,458.1 L1535.5,424.3 L1538.0,465.4 L1540.5,448.5 L1543.0,445.0 L1545.5,437.5 L1548.0,429.1 L1550.5,445.3 L1553.0,430.4 L1555.5,436.1 L1558.0,454.9 L1560.5,441.1 L1563.0,467.4 L1565.5,477.4 L1568.0,422.1 L1570.5,449.5 L1573.0,445.7 L1575.5,460.1 L1578.0,480.8 L1580.5,477.3 L1583.0,380.0 L1585.5,453.6 L1588.1,447.2 L1590.6,483.0 L1593.1,482.6 L1595.6,480.5 L1598.1,453.4 L1600.6,449.5 L1603.1,484.4 L1605.6,450.4 L1608.1,481.7 L1610.6,473.1 L1613.1,469.2 L1615.6,470.8 L1618.1,452.6 L1620.6,464.2 L1623.1,483.0 L1625.6,467.9 L1628.1,461.1 L1630.6,385.0 L1633.1,450.7 L1635.6,467.5 L1638.1,446.1 L1640.6,459.6 L1643.1,478.0 L1645.7,453.8 L1648.2,468.5 L1650.7,476.8 L1653.2,447.6 L1655.7,467.5 L1658.2,461.4 L1660.7,454.7 L1663.2,477.0 L1665.7,463.0 L1668.2,448.5 L1670.7,454.3 L1673.2,455.3 L1675.7,465.6 L1678.2,457.9 L1680.7,446.6 L1683.2,448.2 L1685.7,476.3 L1688.2,455.4 L1690.7,467.5 L1693.2,486.6 L1695.7,473.6 L1698.2,493.6 L1700.7,496.2 L1703.2,498.9 L1705.7,499.6 L1708.2,493.4 L1710.8,497.1 L1713.2,495.0 L1715.8,494.3 L1718.3,500.1 L1720.8,489.7 L1723.3,494.7 L1725.8,504.6 L1728.3,498.5 L1730.8,502.1 L1733.3,502.8 L1735.8,493.3 L1738.3,496.8 L1740.8,503.3 L1743.3,497.1 L1745.8,497.3 L1748.3,499.7 L1750.8,503.6 L1753.3,495.6 L1755.8,496.6 L1758.3,494.9 L1760.8,494.3 L1763.3,494.9 L1765.8,499.2 L1768.3,497.6 L1770.8,497.5 L1773.3,495.1 L1775.8,498.9 L1778.3,505.7 L1780.9,504.3 L1783.4,495.2 L1785.9,500.1 L1788.4,502.2 L1790.9,500.5 L1793.4,497.5 L1795.9,503.0 L1798.4,505.5 L1800.9,504.9 L1803.4,504.8 L1805.9,504.5 L1808.4,500.4 L1810.9,499.4 L1813.4,497.6 L1815.9,498.4 L1818.4,502.2 L1820.9,498.2 L1823.4,498.3 L1825.9,500.1 L1828.4,501.7 L1830.9,504.9 L1833.4,501.3 L1835.9,506.5 L1838.5,501.1 L1841.0,502.6 L1843.5,502.2 L1846.0,504.6 L1848.5,504.5 L1851.0,506.0 L1853.5,504.9 L1856.0,503.7 L1858.5,500.4 L1861.0,507.7 L1863.5,500.1 L1866.0,505.9 L1868.5,506.4 L1871.0,504.0" stroke="#2db14a"/>
</g>
<g opacity="0.28" fill="#8a8c9c"><path d="M442,484 h24 q3,0 3,3 v10 q0,3 -3,3 h-10 l-6,4 v-4 h-8 Z"/><text x="484" y="501.5" font-size="17" font-family="Liberation Sans, sans-serif" font-weight="700" letter-spacing="1">飞瓜智投</text></g>
<path d="M964.75,314 V811" stroke="#55586c" stroke-width="1.2"/>
<path d="M1501,314 V811" stroke="#4a4d62" stroke-width="1"/>
<g fill="#fff" stroke-width="1.5">
<circle cx="1501" cy="384" r="5.1" stroke="#d35fe0"/><circle cx="1501" cy="380" r="5.1" stroke="#5b9cf8"/>
<circle cx="1501" cy="406" r="5.1" stroke="#fb7312"/><circle cx="1501" cy="419" r="5.1" stroke="#2fd0f5"/><circle cx="1501" cy="481" r="5.1" stroke="#2db14a"/>
</g>
</svg>
<div class="" style="left:319px;top:539px;width:1600px;height:300px;background:#25283d;"></div>
<div style="left:342px;top:550px;width:100px;height:34px;background:#363a55;border-radius:5px;"></div>
<svg class="a" style="left:353px;top:559px" width="17" height="17" viewBox="0 0 17 17"><path fill-rule="evenodd" d="M16.54,6.90 L16.70,8.50 L14.58,9.71 L14.23,10.87 L15.32,13.06 L14.30,14.30 L11.94,13.66 L10.87,14.23 L10.10,16.54 L8.50,16.70 L7.29,14.58 L6.13,14.23 L3.94,15.32 L2.70,14.30 L3.34,11.94 L2.77,10.87 L0.46,10.10 L0.30,8.50 L2.42,7.29 L2.77,6.13 L1.68,3.94 L2.70,2.70 L5.06,3.34 L6.13,2.77 L6.90,0.46 L8.50,0.30 L9.71,2.42 L10.87,2.77 L13.06,1.68 L14.30,2.70 L13.66,5.06 L14.23,6.13 Z M8.5,5.7 a2.8,2.8 0 1 0 0.01,0 Z" fill="#4d7cfe" stroke="#4d7cfe" stroke-width="1" stroke-linejoin="round"/></svg>
<div class="t" style="left:375px;top:556.5px;font-size:14px;line-height:22px;color:#fff;">关注事件</div>
<div class="t" style="left:341.75px;top:606.5px;font-size:14px;letter-spacing:-0.3px;line-height:22px;color:#b4b6d0;">轮班</div>
<svg class="a" style="left:375.25px;top:610.0px" width="16" height="14" viewBox="0 0 16 14"><path d="M0.8,0.8 H11.6 L7.6,5.6 V11.6 L4.8,9.6 V5.6 Z" fill="none" stroke="#a0a8d0" stroke-width="1.3" stroke-linejoin="round"/><path d="M9.6,8.4 H14.4 M9.6,10.6 H14.4 M9.6,12.8 H14.4" stroke="#a0a8d0" stroke-width="1.1"/></svg>
<div class="t" style="left:400px;top:608.5px;font-size:12px;line-height:18px;color:#8a8da8;">主播</div>
<div class="t" style="left:341.75px;top:656.5px;font-size:14px;letter-spacing:-0.3px;line-height:22px;color:#b4b6d0;">福袋</div>
<div class="t" style="left:341.75px;top:705px;font-size:14px;letter-spacing:-0.3px;line-height:22px;color:#b4b6d0;">商品讲解</div>
<svg class="a" style="left:402.25px;top:708.5px" width="16" height="14" viewBox="0 0 16 14"><path d="M0.8,0.8 H11.6 L7.6,5.6 V11.6 L4.8,9.6 V5.6 Z" fill="none" stroke="#a0a8d0" stroke-width="1.3" stroke-linejoin="round"/><path d="M9.6,8.4 H14.4 M9.6,10.6 H14.4 M9.6,12.8 H14.4" stroke="#a0a8d0" stroke-width="1.1"/></svg>
<div class="t" style="left:341.75px;top:754px;font-size:14px;letter-spacing:-0.3px;line-height:22px;color:#b4b6d0;">商品上架</div>
<svg class="a" style="left:402.25px;top:757.5px" width="16" height="14" viewBox="0 0 16 14"><path d="M0.8,0.8 H11.6 L7.6,5.6 V11.6 L4.8,9.6 V5.6 Z" fill="none" stroke="#a0a8d0" stroke-width="1.3" stroke-linejoin="round"/><path d="M9.6,8.4 H14.4 M9.6,10.6 H14.4 M9.6,12.8 H14.4" stroke="#a0a8d0" stroke-width="1.1"/></svg>
<div class="t" style="left:438px;top:610px;width:226.5px;height:18px;background:#dd7f7c;color:#fff;font-size:14px;line-height:20px;text-align:center;">伯庸</div>
<div class="t" style="left:664.5px;top:610px;width:227.20000000000005px;height:18px;background:#ebc08a;color:#fff;font-size:14px;line-height:20px;text-align:center;">路曼</div>
<div class="t" style="left:891.7px;top:610px;width:228.0px;height:18px;background:#bccd6e;color:#fff;font-size:14px;line-height:20px;text-align:center;">灵均</div>
<div class="t" style="left:1119.7px;top:610px;width:227.29999999999995px;height:18px;background:#ebc08a;color:#fff;font-size:14px;line-height:20px;text-align:center;">路曼</div>
<div class="t" style="left:1347px;top:610px;width:227px;height:18px;background:#78b98a;color:#fff;font-size:14px;line-height:20px;text-align:center;">修能</div>
<div class="t" style="left:1574px;top:610px;width:150.5999999999999px;height:18px;background:#629dc4;color:#fff;font-size:14px;line-height:20px;text-align:center;">若木</div>
<div class="t" style="left:1724.6px;top:610px;width:140.4000000000001px;height:18px;background:#957bd8;color:#fff;font-size:14px;line-height:20px;text-align:center;padding-left:10px;box-sizing:border-box;">Tina</div>
<div style="left:438px;top:665.7px;width:1427px;height:3.5px;background:#1f2133;border-radius:2px;"></div>
<div style="left:438px;top:714.3px;width:1437px;height:3.5px;background:#1f2133;border-radius:2px;"></div>
<div style="left:438px;top:762.5px;width:1427px;height:3.5px;background:#1f2133;border-radius:2px;"></div>
<svg class="a" style="left:0;top:650px" width="1895" height="30" viewBox="0 650 1895 30"><defs><linearGradient id="bg1" x1="0" y1="0" x2="0" y2="1"><stop offset="0" stop-color="#e3a6da"/><stop offset="0.45" stop-color="#f583b2"/><stop offset="1" stop-color="#ef477a"/></linearGradient><g id="bag"><path d="M-3.8,-7.8 Q-2,-6.6 0,-7.5 Q2,-6.6 3.8,-7.8 Q3.6,-5 1.8,-3.6 L-1.8,-3.6 Q-3.6,-5 -3.8,-7.8 Z" fill="#cdaae8"/><path d="M0,-4.2 C4.2,-4.2 6.9,-1.6 6.9,2.2 C6.9,5.6 4.6,7.2 0,7.2 C-4.6,7.2 -6.9,5.6 -6.9,2.2 C-6.9,-1.6 -4.2,-4.2 0,-4.2 Z" fill="url(#bg1)"/><rect x="-2.5" y="-1" width="5" height="5.4" rx="0.5" fill="#fdeef3"/><path d="M-1.3,0.4 H1.3 M0,0.4 V3.6 M-1.3,2 H1.3" stroke="#f27aa0" stroke-width="0.7"/></g><g id="spk"><path d="M3.2,-7.6 L6.6,-11.6" stroke="#f0b93a" stroke-width="1.7" stroke-linecap="round"/><path d="M0.6,-9 V-11.4" stroke="#4aa6ee" stroke-width="1.7"/><path d="M-3.6,-10.6 q1.6,-0.6 1.8,0.8 q0,1 -1.2,1.4" stroke="#e8a23a" stroke-width="0.9" fill="none"/><path d="M-7.4,-8 h2" stroke="#f08aa0" stroke-width="0.8"/><circle cx="-6.6" cy="-4.6" r="0.5" fill="#e8a23a"/></g></defs><use href="#bag" x="439" y="668"/><use href="#bag" x="458" y="668"/><use href="#bag" x="477.5" y="668"/><use href="#spk" x="477.5" y="668"/><use href="#bag" x="484" y="668"/><use href="#bag" x="502" y="668"/><use href="#bag" x="522.5" y="668"/><use href="#spk" x="522.5" y="668"/><use href="#bag" x="543" y="668"/><use href="#spk" x="543" y="668"/><use href="#bag" x="562" y="668"/><use href="#spk" x="562" y="668"/><use href="#bag" x="571" y="668"/><use href="#bag" x="592" y="668"/><use href="#spk" x="592" y="668"/><use href="#bag" x="613" y="668"/><use href="#spk" x="613" y="668"/><use href="#bag" x="634" y="668"/><use href="#spk" x="634" y="668"/><use href="#bag" x="653.5" y="668"/><use href="#bag" x="672.8" y="668"/><use href="#bag" x="693.4" y="668"/><use href="#spk" x="693.4" y="668"/><use href="#bag" x="715" y="668"/><use href="#spk" x="715" y="668"/><use href="#bag" x="738" y="668"/><use href="#spk" x="738" y="668"/><use href="#bag" x="760" y="668"/><use href="#spk" x="760" y="668"/><use href="#bag" x="780" y="668"/><use href="#spk" x="780" y="668"/><use href="#bag" x="799.5" y="668"/><use href="#spk" x="799.5" y="668"/><use href="#bag" x="807" y="668"/><use href="#bag" x="827.5" y="668"/><use href="#spk" x="827.5" y="668"/><use href="#bag" x="847.8" y="668"/><use href="#spk" x="847.8" y="668"/><use href="#bag" x="867" y="668"/><use href="#spk" x="867" y="668"/><use href="#bag" x="876.5" y="668"/><use href="#bag" x="896.8" y="668"/><use href="#spk" x="896.8" y="668"/><use href="#bag" x="918.7" y="668"/><use href="#spk" x="918.7" y="668"/><use href="#bag" x="939.7" y="668"/><use href="#spk" x="939.7" y="668"/><use href="#bag" x="959.3" y="668"/><use href="#spk" x="959.3" y="668"/><use href="#bag" x="979.5" y="668"/><use href="#bag" x="998.8" y="668"/><use href="#spk" x="998.8" y="668"/><use href="#bag" x="1019" y="668"/><use href="#spk" x="1019" y="668"/><use href="#bag" x="1038.6" y="668"/><use href="#bag" x="1059" y="668"/><use href="#spk" x="1059" y="668"/><use href="#bag" x="1078.5" y="668"/><use href="#bag" x="1098.4" y="668"/><use href="#spk" x="1098.4" y="668"/><use href="#bag" x="1118" y="668"/><use href="#bag" x="1137.6" y="668"/><use href="#spk" x="1137.6" y="668"/><use href="#bag" x="1158.6" y="668"/><use href="#spk" x="1158.6" y="668"/><use href="#bag" x="1167" y="668"/><use href="#bag" x="1189" y="668"/><use href="#spk" x="1189" y="668"/><use href="#bag" x="1211" y="668"/><use href="#spk" x="1211" y="668"/><use href="#bag" x="1234.6" y="668"/><use href="#spk" x="1234.6" y="668"/><use href="#bag" x="1258" y="668"/><use href="#spk" x="1258" y="668"/><use href="#bag" x="1280" y="668"/><use href="#spk" x="1280" y="668"/><use href="#bag" x="1302.3" y="668"/><use href="#spk" x="1302.3" y="668"/><use href="#bag" x="1325" y="668"/><use href="#spk" x="1325" y="668"/><use href="#bag" x="1349" y="668"/><use href="#spk" x="1349" y="668"/><use href="#bag" x="1356" y="668"/><use href="#bag" x="1374" y="668"/><use href="#spk" x="1374" y="668"/><use href="#bag" x="1398.6" y="668"/><use href="#spk" x="1398.6" y="668"/><use href="#bag" x="1420.5" y="668"/><use href="#spk" x="1420.5" y="668"/><use href="#bag" x="1430.7" y="668"/><use href="#bag" x="1451.6" y="668"/><use href="#spk" x="1451.6" y="668"/><use href="#bag" x="1474.6" y="668"/><use href="#spk" x="1474.6" y="668"/><use href="#bag" x="1497" y="668"/><use href="#spk" x="1497" y="668"/><use href="#bag" x="1518.5" y="668"/><use href="#spk" x="1518.5" y="668"/><use href="#bag" x="1539.8" y="668"/><use href="#spk" x="1539.8" y="668"/><use href="#bag" x="1559" y="668"/><use href="#spk" x="1559" y="668"/><use href="#bag" x="1567.5" y="668"/><use href="#bag" x="1587.8" y="668"/><use href="#spk" x="1587.8" y="668"/><use href="#bag" x="1594.5" y="668"/><use href="#bag" x="1613" y="668"/><use href="#bag" x="1635" y="668"/><use href="#spk" x="1635" y="668"/><use href="#bag" x="1658.7" y="668"/><use href="#spk" x="1658.7" y="668"/><use href="#bag" x="1679" y="668"/><use href="#spk" x="1679" y="668"/><use href="#bag" x="1699" y="668"/><use href="#bag" x="1719.5" y="668"/><use href="#spk" x="1719.5" y="668"/><use href="#bag" x="1739.8" y="668"/><use href="#spk" x="1739.8" y="668"/><use href="#bag" x="1746.6" y="668"/><use href="#bag" x="1765" y="668"/><use href="#spk" x="1765" y="668"/><use href="#bag" x="1814.8" y="668"/><use href="#bag" x="1834.4" y="668"/><use href="#spk" x="1834.4" y="668"/><use href="#bag" x="1841" y="668"/><use href="#bag" x="1859.7" y="668"/><use href="#spk" x="1859.7" y="668"/></svg>
<svg class="a" style="left:0;top:710px" width="1895" height="12" viewBox="0 710 1895 12"><g fill="#fb8c55"><rect x="441" y="715" width="354.4" height="2.4"/><rect x="441.0" y="713" width="3.5" height="6.4" rx="3.2"/><rect x="446.1" y="713" width="3.5" height="6.4" rx="3.2"/><rect x="450.2" y="713" width="5.5" height="6.4" rx="3.2"/><rect x="456.9" y="713" width="16.9" height="6.4" rx="3.2"/><rect x="474.6" y="713" width="4.5" height="6.4" rx="3.2"/><rect x="480.3" y="713" width="17.7" height="6.4" rx="3.2"/><rect x="499.3" y="713" width="3.5" height="6.4" rx="3.2"/><rect x="504.0" y="713" width="9.5" height="6.4" rx="3.2"/><rect x="514.7" y="713" width="4.5" height="6.4" rx="3.2"/><rect x="519.8" y="713" width="11.4" height="6.4" rx="3.2"/><rect x="532.8" y="713" width="4.0" height="6.4" rx="3.2"/><rect x="537.6" y="713" width="3.5" height="6.4" rx="3.2"/><rect x="543.3" y="713" width="7.1" height="6.4" rx="3.2"/><rect x="551.6" y="713" width="4.5" height="6.4" rx="3.2"/><rect x="558.3" y="713" width="5.0" height="6.4" rx="3.2"/><rect x="565.5" y="713" width="5.0" height="6.4" rx="3.2"/><rect x="571.3" y="713" width="4.5" height="6.4" rx="3.2"/><rect x="576.4" y="713" width="5.0" height="6.4" rx="3.2"/><rect x="582.6" y="713" width="5.0" height="6.4" rx="3.2"/><rect x="588.8" y="713" width="4.0" height="6.4" rx="3.2"/><rect x="593.4" y="713" width="4.0" height="6.4" rx="3.2"/><rect x="599.0" y="713" width="4.5" height="6.4" rx="3.2"/><rect x="605.1" y="713" width="11.2" height="6.4" rx="3.2"/><rect x="618.5" y="713" width="4.5" height="6.4" rx="3.2"/><rect x="623.6" y="713" width="16.2" height="6.4" rx="3.2"/><rect x="641.0" y="713" width="15.0" height="6.4" rx="3.2"/><rect x="656.8" y="713" width="4.0" height="6.4" rx="3.2"/><rect x="662.0" y="713" width="3.5" height="6.4" rx="3.2"/><rect x="666.7" y="713" width="4.5" height="6.4" rx="3.2"/><rect x="672.4" y="713" width="4.5" height="6.4" rx="3.2"/><rect x="678.1" y="713" width="17.1" height="6.4" rx="3.2"/><rect x="696.7" y="713" width="18.3" height="6.4" rx="3.2"/><rect x="715.6" y="713" width="4.0" height="6.4" rx="3.2"/><rect x="721.2" y="713" width="4.5" height="6.4" rx="3.2"/><rect x="727.3" y="713" width="4.0" height="6.4" rx="3.2"/><rect x="732.5" y="713" width="4.5" height="6.4" rx="3.2"/><rect x="737.6" y="713" width="4.5" height="6.4" rx="3.2"/><rect x="743.3" y="713" width="14.4" height="6.4" rx="3.2"/><rect x="759.4" y="713" width="12.5" height="6.4" rx="3.2"/><rect x="772.7" y="713" width="3.5" height="6.4" rx="3.2"/><rect x="776.8" y="713" width="14.7" height="6.4" rx="3.2"/><rect x="792.3" y="713" width="3.1" height="6.4" rx="3.2"/><rect x="818.4" y="715" width="118.2" height="2.4"/><rect x="818.4" y="713" width="4.5" height="6.4" rx="3.2"/><rect x="823.5" y="713" width="5.5" height="6.4" rx="3.2"/><rect x="830.2" y="713" width="12.3" height="6.4" rx="3.2"/><rect x="843.3" y="713" width="4.0" height="6.4" rx="3.2"/><rect x="848.9" y="713" width="3.5" height="6.4" rx="3.2"/><rect x="853.2" y="713" width="4.0" height="6.4" rx="3.2"/><rect x="858.8" y="713" width="13.5" height="6.4" rx="3.2"/><rect x="872.9" y="713" width="4.5" height="6.4" rx="3.2"/><rect x="878.2" y="713" width="4.0" height="6.4" rx="3.2"/><rect x="883.8" y="713" width="8.8" height="6.4" rx="3.2"/><rect x="893.2" y="713" width="11.1" height="6.4" rx="3.2"/><rect x="904.9" y="713" width="12.2" height="6.4" rx="3.2"/><rect x="917.8" y="713" width="3.5" height="6.4" rx="3.2"/><rect x="922.9" y="713" width="5.5" height="6.4" rx="3.2"/><rect x="929.2" y="713" width="5.0" height="6.4" rx="3.2"/><rect x="935.4" y="713" width="1.2" height="6.4" rx="3.2"/><rect x="940" y="715" width="151.0" height="2.4"/><rect x="940.0" y="713" width="5.0" height="6.4" rx="3.2"/><rect x="946.6" y="713" width="4.5" height="6.4" rx="3.2"/><rect x="951.9" y="713" width="5.5" height="6.4" rx="3.2"/><rect x="958.2" y="713" width="10.5" height="6.4" rx="3.2"/><rect x="969.3" y="713" width="15.9" height="6.4" rx="3.2"/><rect x="986.8" y="713" width="5.0" height="6.4" rx="3.2"/><rect x="993.4" y="713" width="3.5" height="6.4" rx="3.2"/><rect x="997.7" y="713" width="7.2" height="6.4" rx="3.2"/><rect x="1006.1" y="713" width="5.0" height="6.4" rx="3.2"/><rect x="1011.9" y="713" width="4.0" height="6.4" rx="3.2"/><rect x="1016.7" y="713" width="4.5" height="6.4" rx="3.2"/><rect x="1023.4" y="713" width="13.1" height="6.4" rx="3.2"/><rect x="1038.7" y="713" width="3.5" height="6.4" rx="3.2"/><rect x="1042.8" y="713" width="3.5" height="6.4" rx="3.2"/><rect x="1047.9" y="713" width="4.5" height="6.4" rx="3.2"/><rect x="1054.6" y="713" width="7.5" height="6.4" rx="3.2"/><rect x="1062.8" y="713" width="13.8" height="6.4" rx="3.2"/><rect x="1077.2" y="713" width="4.5" height="6.4" rx="3.2"/><rect x="1082.3" y="713" width="5.5" height="6.4" rx="3.2"/><rect x="1089.4" y="713" width="1.6" height="6.4" rx="3.2"/><rect x="1096.8" y="715" width="2.4" height="2.4"/><rect x="1096.8" y="713" width="2.4" height="6.4" rx="3.2"/><rect x="1102" y="715" width="2.5" height="2.4"/><rect x="1102.0" y="713" width="2.5" height="6.4" rx="3.2"/><rect x="1108" y="715" width="174.7" height="2.4"/><rect x="1108.0" y="713" width="11.8" height="6.4" rx="3.2"/><rect x="1121.4" y="713" width="5.0" height="6.4" rx="3.2"/><rect x="1127.0" y="713" width="4.0" height="6.4" rx="3.2"/><rect x="1132.2" y="713" width="13.2" height="6.4" rx="3.2"/><rect x="1146.0" y="713" width="9.2" height="6.4" rx="3.2"/><rect x="1156.0" y="713" width="4.0" height="6.4" rx="3.2"/><rect x="1161.2" y="713" width="4.5" height="6.4" rx="3.2"/><rect x="1166.9" y="713" width="3.5" height="6.4" rx="3.2"/><rect x="1171.2" y="713" width="4.5" height="6.4" rx="3.2"/><rect x="1176.3" y="713" width="5.0" height="6.4" rx="3.2"/><rect x="1183.5" y="713" width="3.5" height="6.4" rx="3.2"/><rect x="1189.2" y="713" width="4.5" height="6.4" rx="3.2"/><rect x="1194.9" y="713" width="4.0" height="6.4" rx="3.2"/><rect x="1199.5" y="713" width="5.5" height="6.4" rx="3.2"/><rect x="1206.2" y="713" width="5.0" height="6.4" rx="3.2"/><rect x="1213.4" y="713" width="5.5" height="6.4" rx="3.2"/><rect x="1220.5" y="713" width="5.0" height="6.4" rx="3.2"/><rect x="1227.1" y="713" width="5.5" height="6.4" rx="3.2"/><rect x="1233.8" y="713" width="11.4" height="6.4" rx="3.2"/><rect x="1246.8" y="713" width="4.0" height="6.4" rx="3.2"/><rect x="1253.0" y="713" width="4.5" height="6.4" rx="3.2"/><rect x="1258.3" y="713" width="4.5" height="6.4" rx="3.2"/><rect x="1265.0" y="713" width="8.0" height="6.4" rx="3.2"/><rect x="1273.8" y="713" width="4.5" height="6.4" rx="3.2"/><rect x="1279.5" y="713" width="3.2" height="6.4" rx="3.2"/><rect x="1291.5" y="715" width="73.3" height="2.4"/><rect x="1291.5" y="713" width="3.5" height="6.4" rx="3.2"/><rect x="1296.2" y="713" width="19.4" height="6.4" rx="3.2"/><rect x="1316.4" y="713" width="5.0" height="6.4" rx="3.2"/><rect x="1323.6" y="713" width="8.0" height="6.4" rx="3.2"/><rect x="1332.2" y="713" width="5.0" height="6.4" rx="3.2"/><rect x="1338.0" y="713" width="4.5" height="6.4" rx="3.2"/><rect x="1344.1" y="713" width="10.1" height="6.4" rx="3.2"/><rect x="1355.8" y="713" width="4.5" height="6.4" rx="3.2"/><rect x="1361.5" y="713" width="3.3" height="6.4" rx="3.2"/><rect x="1367.5" y="715" width="80.1" height="2.4"/><rect x="1367.5" y="713" width="5.0" height="6.4" rx="3.2"/><rect x="1374.1" y="713" width="4.5" height="6.4" rx="3.2"/><rect x="1379.8" y="713" width="5.5" height="6.4" rx="3.2"/><rect x="1385.9" y="713" width="5.5" height="6.4" rx="3.2"/><rect x="1393.0" y="713" width="5.5" height="6.4" rx="3.2"/><rect x="1399.7" y="713" width="5.0" height="6.4" rx="3.2"/><rect x="1406.9" y="713" width="5.5" height="6.4" rx="3.2"/><rect x="1413.0" y="713" width="4.5" height="6.4" rx="3.2"/><rect x="1419.7" y="713" width="18.8" height="6.4" rx="3.2"/><rect x="1439.7" y="713" width="5.0" height="6.4" rx="3.2"/><rect x="1446.9" y="713" width="0.7" height="6.4" rx="3.2"/><rect x="1464.5" y="715" width="82.5" height="2.4"/><rect x="1464.5" y="713" width="4.0" height="6.4" rx="3.2"/><rect x="1469.1" y="713" width="5.5" height="6.4" rx="3.2"/><rect x="1476.8" y="713" width="5.5" height="6.4" rx="3.2"/><rect x="1483.5" y="713" width="4.0" height="6.4" rx="3.2"/><rect x="1488.3" y="713" width="9.7" height="6.4" rx="3.2"/><rect x="1499.2" y="713" width="4.5" height="6.4" rx="3.2"/><rect x="1504.3" y="713" width="15.4" height="6.4" rx="3.2"/><rect x="1521.8" y="713" width="16.1" height="6.4" rx="3.2"/><rect x="1538.8" y="713" width="4.0" height="6.4" rx="3.2"/><rect x="1543.4" y="713" width="3.5" height="6.4" rx="3.2"/><rect x="1549.6" y="715" width="173.4" height="2.4"/><rect x="1549.6" y="713" width="5.0" height="6.4" rx="3.2"/><rect x="1555.4" y="713" width="4.5" height="6.4" rx="3.2"/><rect x="1561.5" y="713" width="5.0" height="6.4" rx="3.2"/><rect x="1567.3" y="713" width="4.5" height="6.4" rx="3.2"/><rect x="1574.0" y="713" width="4.5" height="6.4" rx="3.2"/><rect x="1580.1" y="713" width="5.0" height="6.4" rx="3.2"/><rect x="1585.7" y="713" width="3.5" height="6.4" rx="3.2"/><rect x="1590.4" y="713" width="7.2" height="6.4" rx="3.2"/><rect x="1598.4" y="713" width="3.5" height="6.4" rx="3.2"/><rect x="1604.1" y="713" width="10.0" height="6.4" rx="3.2"/><rect x="1616.4" y="713" width="5.5" height="6.4" rx="3.2"/><rect x="1622.7" y="713" width="12.9" height="6.4" rx="3.2"/><rect x="1637.1" y="713" width="4.0" height="6.4" rx="3.2"/><rect x="1643.3" y="713" width="3.5" height="6.4" rx="3.2"/><rect x="1648.4" y="713" width="4.5" height="6.4" rx="3.2"/><rect x="1654.1" y="713" width="17.8" height="6.4" rx="3.2"/><rect x="1673.6" y="713" width="3.5" height="6.4" rx="3.2"/><rect x="1677.9" y="713" width="5.5" height="6.4" rx="3.2"/><rect x="1684.6" y="713" width="13.2" height="6.4" rx="3.2"/><rect x="1699.0" y="713" width="8.1" height="6.4" rx="3.2"/><rect x="1707.8" y="713" width="15.2" height="6.4" rx="3.2"/><rect x="1738.8" y="715" width="3.2" height="2.4"/><rect x="1738.8" y="713" width="3.2" height="6.4" rx="3.2"/><rect x="1744" y="715" width="5.0" height="2.4"/><rect x="1744.0" y="713" width="5.0" height="6.4" rx="3.2"/><rect x="1750.5" y="715" width="2.5" height="2.4"/><rect x="1750.5" y="713" width="2.5" height="6.4" rx="3.2"/><rect x="1763.4" y="715" width="21.3" height="2.4"/><rect x="1763.4" y="713" width="5.5" height="6.4" rx="3.2"/><rect x="1769.7" y="713" width="3.5" height="6.4" rx="3.2"/><rect x="1774.4" y="713" width="10.3" height="6.4" rx="3.2"/><rect x="1788.8" y="715" width="66.9" height="2.4"/><rect x="1788.8" y="713" width="5.5" height="6.4" rx="3.2"/><rect x="1794.9" y="713" width="4.0" height="6.4" rx="3.2"/><rect x="1801.1" y="713" width="3.5" height="6.4" rx="3.2"/><rect x="1805.2" y="713" width="4.0" height="6.4" rx="3.2"/><rect x="1810.0" y="713" width="4.5" height="6.4" rx="3.2"/><rect x="1815.7" y="713" width="15.2" height="6.4" rx="3.2"/><rect x="1832.5" y="713" width="5.0" height="6.4" rx="3.2"/><rect x="1839.1" y="713" width="16.6" height="6.4" rx="3.2"/><rect x="1864.8" y="715" width="3.7" height="2.4"/><rect x="1864.8" y="713" width="3.7" height="6.4" rx="3.2"/><rect x="1870.5" y="715" width="4.5" height="2.4"/><rect x="1870.5" y="713" width="4.5" height="6.4" rx="3.2"/></g></svg>
<svg class="a" style="left:433.5px;top:756px" width="17" height="17" viewBox="0 0 17 17"><circle cx="8.5" cy="8.5" r="8.2" fill="#fb8c4a"/><path d="M8.5,4.6 L11.2,7.8 H9.3 V12 H7.7 V7.8 H5.8 Z" fill="#fde6d6"/></svg>
<div class="t" style="left:341.75px;top:802.5px;font-size:14px;letter-spacing:-0.3px;line-height:22px;color:#b4b6d0;">场记</div>
<svg class="a" style="left:378px;top:805.3px" width="14" height="10" viewBox="0 0 14 10"><path d="M7,0.5 L13,7 H1 Z" fill="#a0a8d0"/></svg>
<svg class="a" style="left:0;top:795px" width="1895" height="16" viewBox="0 795 1895 16"><circle cx="438.0" cy="812.6" r="7.6" fill="#f5484d"/><circle cx="475.8" cy="812.6" r="7.6" fill="#4fd665"/><circle cx="513.7" cy="812.6" r="7.6" fill="#4fd665"/><circle cx="551.5" cy="812.6" r="7.6" fill="#2d8cf5"/><circle cx="589.3" cy="812.6" r="7.6" fill="#f5484d"/><circle cx="627.1" cy="812.6" r="7.6" fill="#f5484d"/><circle cx="665.0" cy="812.6" r="7.6" fill="#f5484d"/><circle cx="702.8" cy="812.6" r="7.6" fill="#4fd665"/><circle cx="740.6" cy="812.6" r="7.6" fill="#4fd665"/><circle cx="778.5" cy="812.6" r="7.6" fill="#4fd665"/><circle cx="816.3" cy="812.6" r="7.6" fill="#f5484d"/><circle cx="854.1" cy="812.6" r="7.6" fill="#f5484d"/><circle cx="892.0" cy="812.6" r="7.6" fill="#f5484d"/><circle cx="929.8" cy="812.6" r="7.6" fill="#f5484d"/><circle cx="965" cy="813.5" r="11.5" fill="#4d7cfe" stroke="#c8d4ff" stroke-width="1"/><path d="M965,805.5 L968,809 H962 Z" fill="#fff"/><circle cx="1005.4" cy="812.6" r="7.6" fill="#2d8cf5"/><circle cx="1043.3" cy="812.6" r="7.6" fill="#4fd665"/><circle cx="1081.1" cy="812.6" r="7.6" fill="#4fd665"/><circle cx="1118.9" cy="812.6" r="7.6" fill="#2d8cf5"/><circle cx="1156.8" cy="812.6" r="7.6" fill="#2d8cf5"/><circle cx="1194.6" cy="812.6" r="7.6" fill="#4fd665"/><circle cx="1232.4" cy="812.6" r="7.6" fill="#4fd665"/><circle cx="1270.3" cy="812.6" r="7.6" fill="#4fd665"/><circle cx="1308.1" cy="812.6" r="7.6" fill="#f5484d"/><circle cx="1345.9" cy="812.6" r="7.6" fill="#f5484d"/><circle cx="1383.8" cy="812.6" r="7.6" fill="#4fd665"/><circle cx="1421.6" cy="812.6" r="7.6" fill="#f5484d"/><circle cx="1459.4" cy="812.6" r="7.6" fill="#4fd665"/><circle cx="1497.2" cy="812.6" r="7.6" fill="#2d8cf5"/><circle cx="1535.1" cy="812.6" r="7.6" fill="#f5484d"/><circle cx="1572.9" cy="812.6" r="7.6" fill="#2d8cf5"/><circle cx="1610.7" cy="812.6" r="7.6" fill="#2d8cf5"/><circle cx="1648.6" cy="812.6" r="7.6" fill="#2d8cf5"/><circle cx="1686.4" cy="812.6" r="7.6" fill="#4fd665"/><circle cx="1724.2" cy="812.6" r="7.6" fill="#2d8cf5"/><circle cx="1762.0" cy="812.6" r="7.6" fill="#4fd665"/><circle cx="1877" cy="812.6" r="7.6" fill="#f5484d"/></svg>
<div style="left:1877px;top:595px;width:4px;height:118px;background:#2e3152;border-radius:2px;"></div>
<div style="left:319.5px;top:809.5px;width:1576px;height:1.5px;background:#3d4060;"></div>
<div style="left:964.2px;top:539px;width:1.2px;height:272px;background:rgba(170,175,205,0.33);"></div>
<div style="left:1500.5px;top:539px;width:1px;height:272px;background:rgba(170,175,205,0.2);"></div>
<div class="" style="left:1523px;top:162px;width:176.5px;height:222.5px;background:rgba(3,3,7,0.85);border-radius:5px;"></div>
<div class="t" style="left:1541.5px;top:181.0px;font-size:14.5px;line-height:22px;color:#a6a8c2;font-weight:400;">2023-06-18 21:04</div>
<div class="" style="left:1540.5px;top:213.0px;width:11px;height:11px;background:#fb7312;border-radius:6px;"></div>
<div class="t" style="left:1558px;top:208.0px;font-size:14px;line-height:21px;color:#fff;font-weight:400;white-space:nowrap;letter-spacing:-0.3px;">在线人数：76</div>
<div class="" style="left:1540.5px;top:240.0px;width:11px;height:11px;background:#d35fe0;border-radius:6px;"></div>
<div class="t" style="left:1558px;top:235.0px;font-size:14px;line-height:21px;color:#fff;font-weight:400;white-space:nowrap;letter-spacing:-0.3px;">销售额：596,291.94</div>
<div class="" style="left:1540.5px;top:267.0px;width:11px;height:11px;background:#5ba4fb;border-radius:6px;"></div>
<div class="t" style="left:1558px;top:262.0px;font-size:14px;line-height:21px;color:#fff;font-weight:400;white-space:nowrap;letter-spacing:-0.3px;">成交订单数：405</div>
<div class="" style="left:1540.5px;top:294.0px;width:11px;height:11px;background:#2fd0f5;border-radius:6px;"></div>
<div class="t" style="left:1558px;top:289.0px;font-size:14px;line-height:21px;color:#fff;font-weight:400;white-space:nowrap;letter-spacing:-0.3px;">自然流量：25</div>
<div class="" style="left:1540.5px;top:321.0px;width:11px;height:11px;background:#2db14a;border-radius:6px;"></div>
<div class="t" style="left:1558px;top:316.0px;font-size:14px;line-height:21px;color:#fff;font-weight:400;white-space:nowrap;letter-spacing:-0.3px;">付费流量：19</div>
<div class="" style="left:1540.5px;top:348.0px;width:11px;height:11px;background:#7fbf8d;border-radius:6px;"></div>
<div class="t" style="left:1558px;top:343.0px;font-size:14px;line-height:21px;color:#fff;font-weight:400;white-space:nowrap;letter-spacing:-0.3px;">主播：修能</div>
<svg class="a" style="left:0;top:0" width="1895" height="811" viewBox="0 0 1895 811"><path fill="#f44a48" fill-rule="evenodd" d="M28,62.3 H301.8 A13,13 0 0 1 314.8,75.3 V692 A13,13 0 0 1 301.8,705 H28 A13,13 0 0 1 15,692 V75.3 A13,13 0 0 1 28,62.3 Z M29.0,75 H300.9 A1.5,1.5 0 0 1 302.4,76.5 V690.8 A1.5,1.5 0 0 1 300.9,692.3 H29.0 A1.5,1.5 0 0 1 27.5,690.8 V76.5 A1.5,1.5 0 0 1 29.0,75 Z M350,102.3 H1875 A13,13 0 0 1 1888,115.3 V502 A13,13 0 0 1 1875,515 H350 A13,13 0 0 1 337,502 V115.3 A13,13 0 0 1 350,102.3 Z M351.3,115.2 H1874.5 A1.5,1.5 0 0 1 1876,116.7 V501.0 A1.5,1.5 0 0 1 1874.5,502.5 H351.3 A1.5,1.5 0 0 1 349.8,501.0 V116.7 A1.5,1.5 0 0 1 351.3,115.2 Z"/></svg>
<div class="t" style="left:159px;top:179.0px;font-size:20px;line-height:30px;color:#f44a48;font-weight:400;">直播回放</div>
<div class="t" style="left:1125px;top:534.0px;font-size:20px;line-height:30px;color:#f44a48;font-weight:400;">全场直播数据</div>
</div></body></html>
